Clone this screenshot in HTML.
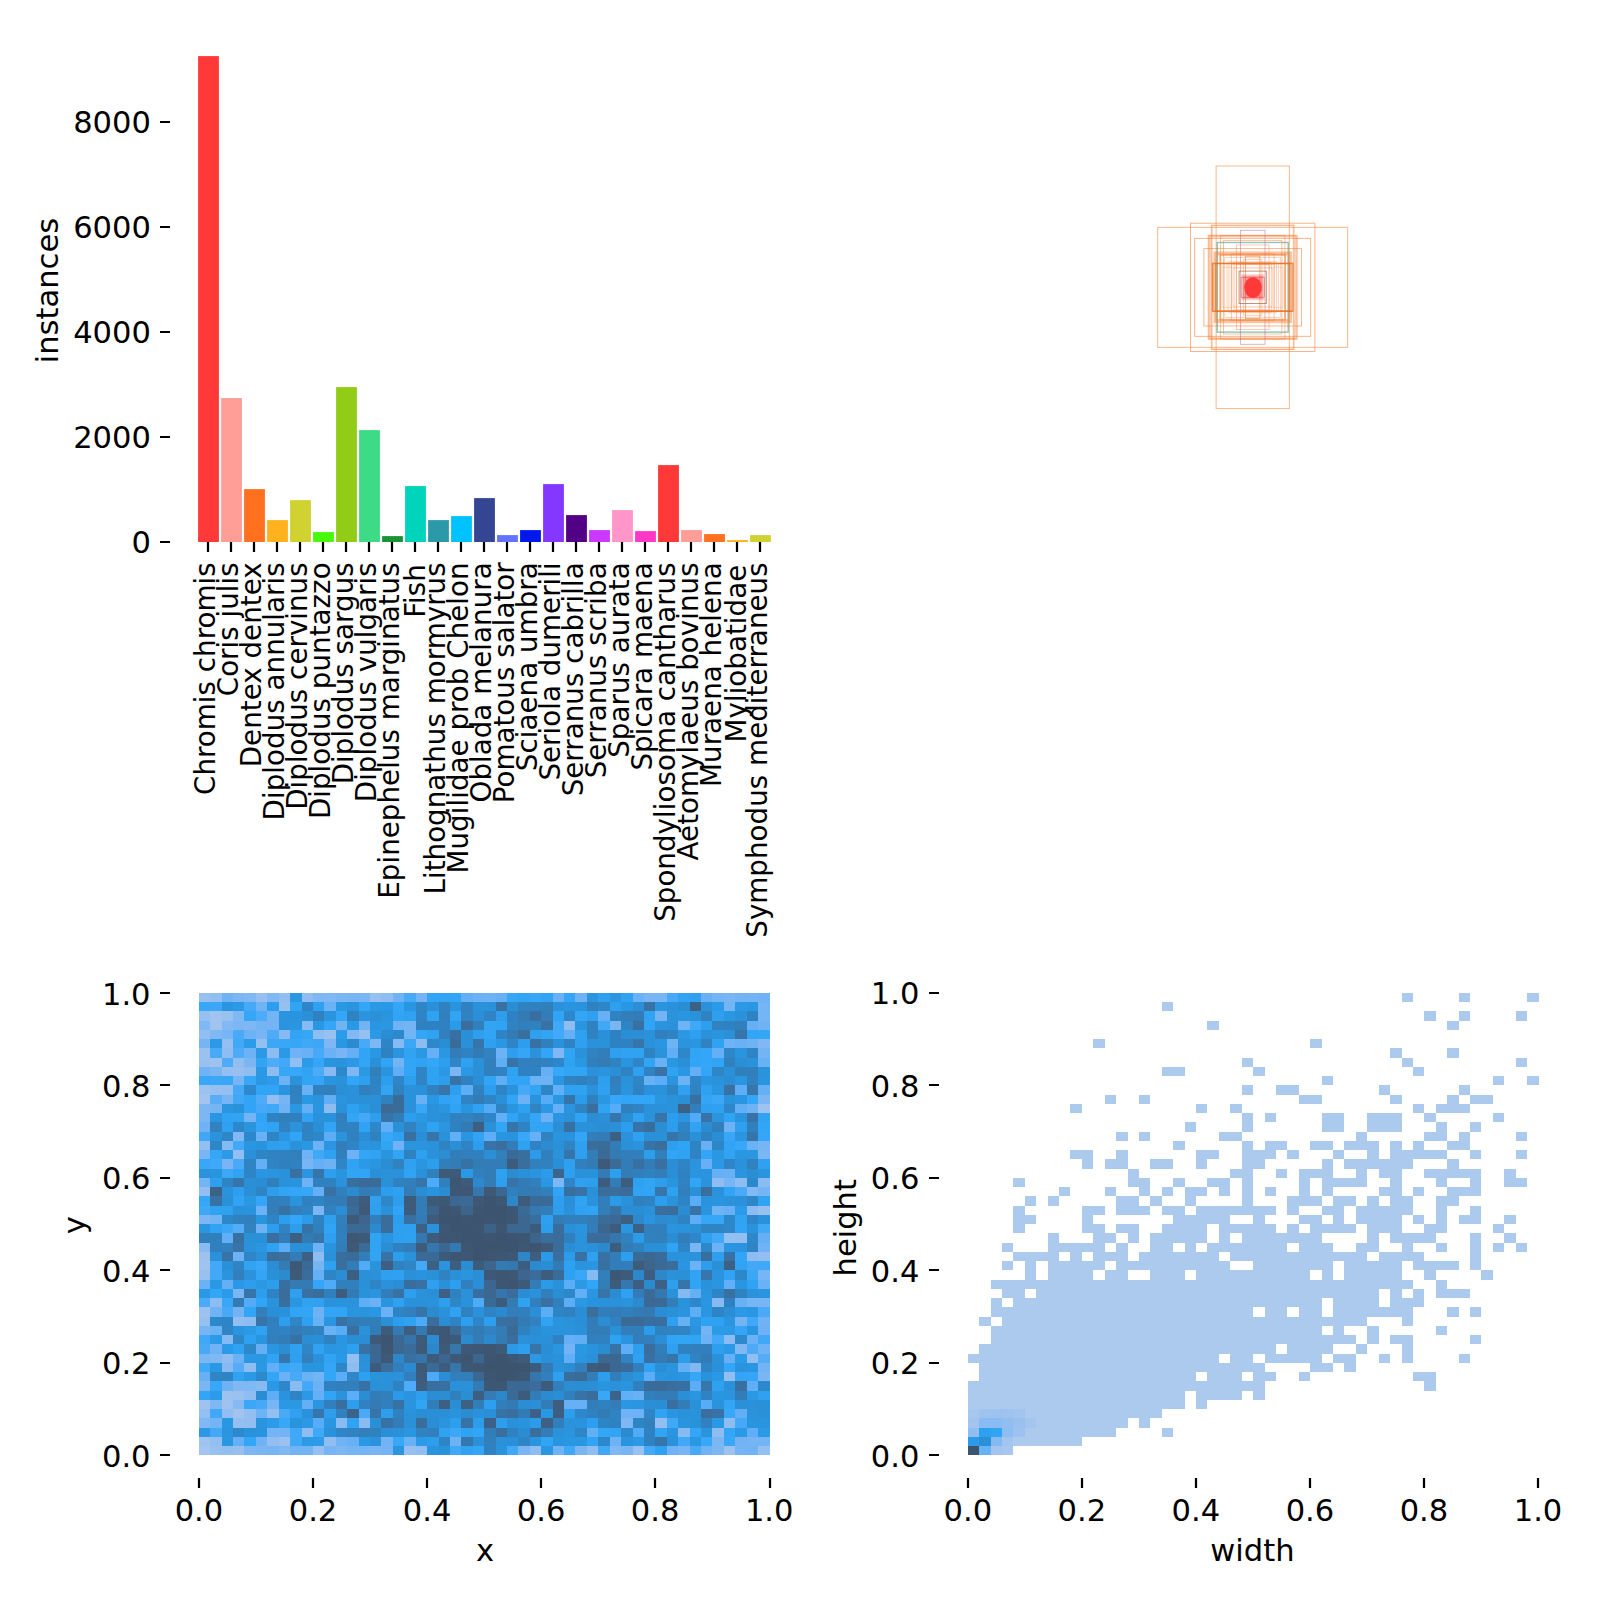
<!DOCTYPE html>
<html><head><meta charset="utf-8"><title>labels</title>
<style>html,body{margin:0;padding:0;background:#fff}svg{display:block}</style></head>
<body><svg width="1600" height="1600" viewBox="0 0 1600 1600">
<rect width="1600" height="1600" fill="#fff"/>
<g stroke="#000" stroke-width="2.22" fill="none">
<path d="M208 542v10M231 542v10M254 542v10M277 542v10M300 542v10M323 542v10M346 542v10M369 542v10M392 542v10M415 542v10M438 542v10M461 542v10M484 542v10M507 542v10M530 542v10M553 542v10M576 542v10M599 542v10M622 542v10M645 542v10M668 542v10M691 542v10M714 542v10M737 542v10M760 542v10M170 122h-10M170 227h-10M170 332h-10M170 437h-10M170 542h-10M199 1478v10M313 1478v10M427 1478v10M541 1478v10M655 1478v10M770 1478v10M170 993h-10M170 1085h-10M170 1178h-10M170 1270h-10M170 1363h-10M170 1455h-10M968 1478v10M1082 1478v10M1196 1478v10M1310 1478v10M1424 1478v10M1538 1478v10M939 993h-10M939 1085h-10M939 1178h-10M939 1270h-10M939 1363h-10M939 1455h-10"/>
</g>
<g>
<rect x="198.1" y="56.1" width="20.8" height="485.9" fill="#FF3838"/>
<rect x="221.1" y="398.1" width="20.8" height="143.9" fill="#FF9D97"/>
<rect x="244.1" y="489.1" width="20.8" height="52.9" fill="#FF701F"/>
<rect x="267.1" y="520.1" width="20.8" height="21.9" fill="#FFB21D"/>
<rect x="290.1" y="500.1" width="20.8" height="41.9" fill="#CFD231"/>
<rect x="313.1" y="532.1" width="20.8" height="9.9" fill="#48F90A"/>
<rect x="336.1" y="387.1" width="20.8" height="154.9" fill="#92CC17"/>
<rect x="359.1" y="430.1" width="20.8" height="111.9" fill="#3DDB86"/>
<rect x="382.1" y="536.1" width="20.8" height="5.9" fill="#1A9334"/>
<rect x="405.1" y="486.1" width="20.8" height="55.9" fill="#00D4BB"/>
<rect x="428.1" y="520.1" width="20.8" height="21.9" fill="#2C99A8"/>
<rect x="451.1" y="516.1" width="20.8" height="25.9" fill="#00C2FF"/>
<rect x="474.1" y="498.1" width="20.8" height="43.9" fill="#344593"/>
<rect x="497.1" y="535.1" width="20.8" height="6.9" fill="#6473FF"/>
<rect x="520.1" y="530.1" width="20.8" height="11.9" fill="#0018EC"/>
<rect x="543.1" y="484.1" width="20.8" height="57.9" fill="#8438FF"/>
<rect x="566.1" y="515.1" width="20.8" height="26.9" fill="#520085"/>
<rect x="589.1" y="530.1" width="20.8" height="11.9" fill="#CB38FF"/>
<rect x="612.1" y="510.1" width="20.8" height="31.9" fill="#FF95C8"/>
<rect x="635.1" y="531.1" width="20.8" height="10.9" fill="#FF37C7"/>
<rect x="658.1" y="465.1" width="20.8" height="76.9" fill="#FF3838"/>
<rect x="681.1" y="530.1" width="20.8" height="11.9" fill="#FF9D97"/>
<rect x="704.1" y="534.1" width="20.8" height="7.9" fill="#FF701F"/>
<rect x="727.1" y="540.1" width="20.8" height="1.9" fill="#FFB21D"/>
<rect x="750.1" y="535.1" width="20.8" height="6.9" fill="#CFD231"/>
</g>
<g font-family="'DejaVu Sans', 'Liberation Sans', sans-serif" fill="#000">
<text font-size="27.78" transform="translate(215.26 794.98) rotate(-90)">Chromis chromis</text>
<text font-size="27.78" transform="translate(238.25 696.26) rotate(-90)">Coris julis</text>
<text font-size="27.78" transform="translate(261.24 767.32) rotate(-90)">Dentex dentex</text>
<text font-size="27.78" transform="translate(284.23 820.38) rotate(-90)">Diplodus annularis</text>
<text font-size="27.78" transform="translate(307.23 809.82) rotate(-90)">Diplodus cervinus</text>
<text font-size="27.78" transform="translate(330.22 819.11) rotate(-90)">Diplodus puntazzo</text>
<text font-size="27.78" transform="translate(353.21 784.33) rotate(-90)">Diplodus sargus</text>
<text font-size="27.78" transform="translate(376.2 802.22) rotate(-90)">Diplodus vulgaris</text>
<text font-size="27.78" transform="translate(399.19 898.71) rotate(-90)">Epinephelus marginatus</text>
<text font-size="27.78" transform="translate(425.18 617.86) rotate(-90)">Fish</text>
<text font-size="27.78" transform="translate(445.17 894.53) rotate(-90)">Lithognathus mormyrus</text>
<text font-size="27.78" transform="translate(468.16 873.44) rotate(-90)">Mugilidae prob Chelon</text>
<text font-size="27.78" transform="translate(491.15 802.47) rotate(-90)">Oblada melanura</text>
<text font-size="27.78" transform="translate(514.14 803.35) rotate(-90)">Pomatous salator</text>
<text font-size="27.78" transform="translate(537.14 771.14) rotate(-90)">Sciaena umbra</text>
<text font-size="27.78" transform="translate(560.13 780.59) rotate(-90)">Seriola dumerili</text>
<text font-size="27.78" transform="translate(583.12 796.34) rotate(-90)">Serranus cabrilla</text>
<text font-size="27.78" transform="translate(606.11 778.35) rotate(-90)">Serranus scriba</text>
<text font-size="27.78" transform="translate(629.1 757.8) rotate(-90)">Sparus aurata</text>
<text font-size="27.78" transform="translate(652.09 770.56) rotate(-90)">Spicara maena</text>
<text font-size="27.78" transform="translate(675.08 921.87) rotate(-90)">Spondyliosoma cantharus</text>
<text font-size="27.78" transform="translate(698.07 860.4) rotate(-90)">Aetomylaeus bovinus</text>
<text font-size="27.78" transform="translate(721.06 786.9) rotate(-90)">Muraena helena</text>
<text font-size="27.78" transform="translate(746.05 742.46) rotate(-90)">Myliobatidae</text>
<text font-size="27.78" transform="translate(767.05 937.74) rotate(-90)">Symphodus mediterraneus</text>
<text font-size="30.56" text-anchor="end" x="150.95" y="552.57">0</text>
<text font-size="30.56" text-anchor="end" x="150.95" y="447.76">2000</text>
<text font-size="30.56" text-anchor="end" x="150.95" y="342.95">4000</text>
<text font-size="30.56" text-anchor="end" x="150.95" y="238.14">6000</text>
<text font-size="30.56" text-anchor="end" x="150.95" y="133.33">8000</text>
<text font-size="30.56" text-anchor="middle" transform="translate(58.22 290.58) rotate(-90)">instances</text>
<text font-size="30.56" text-anchor="middle" x="198.99" y="1520.96">0.0</text>
<text font-size="30.56" text-anchor="middle" x="313.03" y="1520.96">0.2</text>
<text font-size="30.56" text-anchor="middle" x="427.06" y="1520.96">0.4</text>
<text font-size="30.56" text-anchor="middle" x="541.1" y="1520.96">0.6</text>
<text font-size="30.56" text-anchor="middle" x="655.14" y="1520.96">0.8</text>
<text font-size="30.56" text-anchor="middle" x="769.18" y="1520.96">1.0</text>
<text font-size="30.56" text-anchor="middle" x="484.99" y="1560.65">x</text>
<text font-size="30.56" text-anchor="end" x="150.55" y="1466.55">0.0</text>
<text font-size="30.56" text-anchor="end" x="150.55" y="1374.15">0.2</text>
<text font-size="30.56" text-anchor="end" x="150.55" y="1281.75">0.4</text>
<text font-size="30.56" text-anchor="end" x="150.55" y="1189.35">0.6</text>
<text font-size="30.56" text-anchor="end" x="150.55" y="1096.94">0.8</text>
<text font-size="30.56" text-anchor="end" x="150.55" y="1004.54">1.0</text>
<text font-size="30.56" text-anchor="middle" transform="translate(85.39 1225.22) rotate(-90)">y</text>
<text font-size="30.56" text-anchor="middle" x="967.81" y="1520.96">0.0</text>
<text font-size="30.56" text-anchor="middle" x="1081.85" y="1520.96">0.2</text>
<text font-size="30.56" text-anchor="middle" x="1195.89" y="1520.96">0.4</text>
<text font-size="30.56" text-anchor="middle" x="1309.93" y="1520.96">0.6</text>
<text font-size="30.56" text-anchor="middle" x="1423.97" y="1520.96">0.8</text>
<text font-size="30.56" text-anchor="middle" x="1538.01" y="1520.96">1.0</text>
<text font-size="30.56" text-anchor="middle" x="1252.4" y="1560.65">width</text>
<text font-size="30.56" text-anchor="end" x="919.46" y="1466.51">0.0</text>
<text font-size="30.56" text-anchor="end" x="919.46" y="1374.1">0.2</text>
<text font-size="30.56" text-anchor="end" x="919.46" y="1281.7">0.4</text>
<text font-size="30.56" text-anchor="end" x="919.46" y="1189.29">0.6</text>
<text font-size="30.56" text-anchor="end" x="919.46" y="1096.89">0.8</text>
<text font-size="30.56" text-anchor="end" x="919.46" y="1004.48">1.0</text>
<text font-size="30.56" text-anchor="middle" transform="translate(856.3 1227.72) rotate(-90)">height</text>
</g>
<g shape-rendering="crispEdges">
<path fill="#98c1f0" d="M198.7 992.8H210.1V1002.1H198.7zM221.6 1011.3H233V1020.6H221.6zM198.7 1057.6H210.1V1066.8H198.7zM758.1 1205.6H769.5V1214.8H758.1z"/>
<path fill="#93bef1" d="M210.1 992.8H221.6V1002.1H210.1zM278.6 992.8H290V1002.1H278.6zM198.7 1029.8H210.1V1039.1H198.7zM290 1057.6H301.5V1066.8H290zM758.1 1251.8H769.5V1261.1H758.1zM221.6 1409.1H233V1418.3H221.6zM244.4 1409.1H255.8V1418.3H244.4zM244.4 1418.3H255.8V1427.6H244.4zM655.4 1418.3H666.8V1427.6H655.4zM267.2 1436.8H278.6V1446.1H267.2z"/>
<path fill="#70b3f4" d="M221.6 992.8H233V1002.1H221.6zM758.1 992.8H769.5V1002.1H758.1zM255.8 1002.1H267.2V1011.3H255.8zM678.2 1020.6H689.6V1029.8H678.2zM758.1 1020.6H769.5V1029.8H758.1zM666.8 1039.1H678.2V1048.3H666.8zM746.7 1039.1H758.1V1048.3H746.7zM746.7 1103.8H758.1V1113.1H746.7zM712.4 1205.6H723.9V1214.8H712.4zM210.1 1307.3H221.6V1316.6H210.1zM335.7 1436.8H347.1V1446.1H335.7zM552.6 1446.1H564V1455.3H552.6zM701 1446.1H712.4V1455.3H701z"/>
<path fill="#7bb6f3" d="M233 992.8H244.4V1002.1H233zM335.7 992.8H347.1V1002.1H335.7zM609.7 1020.6H621.1V1029.8H609.7zM244.4 1057.6H255.8V1066.8H244.4zM210.1 1066.8H221.6V1076.1H210.1zM198.7 1113.1H210.1V1122.3H198.7zM758.1 1150.1H769.5V1159.3H758.1zM255.8 1446.1H267.2V1455.3H255.8zM518.4 1446.1H529.8V1455.3H518.4zM575.4 1446.1H586.9V1455.3H575.4z"/>
<path fill="#7fb8f3" d="M244.4 992.8H255.8V1002.1H244.4zM324.3 992.8H335.7V1002.1H324.3zM233 1011.3H244.4V1020.6H233zM198.7 1020.6H210.1V1029.8H198.7zM210.1 1029.8H221.6V1039.1H210.1zM233 1131.6H244.4V1140.8H233zM735.3 1344.3H746.7V1353.6H735.3zM210.1 1353.6H221.6V1362.8H210.1zM244.4 1381.3H255.8V1390.6H244.4zM278.6 1446.1H290V1455.3H278.6z"/>
<path fill="#95bff1" d="M255.8 992.8H267.2V1002.1H255.8zM221.6 1039.1H233V1048.3H221.6zM221.6 1066.8H233V1076.1H221.6zM267.2 1409.1H278.6V1418.3H267.2zM233 1418.3H244.4V1427.6H233z"/>
<path fill="#83b9f3" d="M267.2 992.8H278.6V1002.1H267.2zM347.1 1029.8H358.5V1039.1H347.1z"/>
<path fill="#2a97e2" d="M290 992.8H301.5V1002.1H290zM621.1 1002.1H632.5V1011.3H621.1zM746.7 1002.1H758.1V1011.3H746.7zM723.9 1011.3H735.3V1020.6H723.9zM312.9 1020.6H324.3V1029.8H312.9zM495.5 1039.1H507V1048.3H495.5zM438.5 1048.3H449.9V1057.6H438.5zM575.4 1057.6H586.9V1066.8H575.4zM255.8 1076.1H267.2V1085.3H255.8zM427 1094.6H438.5V1103.8H427zM290 1103.8H301.5V1113.1H290zM301.5 1140.8H312.9V1150.1H301.5zM735.3 1150.1H758.1V1159.3H735.3zM541.2 1177.8H552.6V1187.1H541.2zM370 1307.3H381.4V1316.6H370zM575.4 1344.3H586.9V1353.6H575.4zM255.8 1353.6H267.2V1362.8H255.8zM541.2 1409.1H552.6V1418.3H541.2zM221.6 1418.3H233V1427.6H221.6zM564 1436.8H575.4V1446.1H564zM541.2 1446.1H552.6V1455.3H541.2z"/>
<path fill="#8fbdf1" d="M301.5 992.8H312.9V1002.1H301.5zM381.4 992.8H392.8V1002.1H381.4zM564 1020.6H575.4V1029.8H564zM312.9 1029.8H324.3V1039.1H312.9zM244.4 1066.8H255.8V1076.1H244.4zM712.4 1177.8H723.9V1187.1H712.4zM221.6 1353.6H233V1362.8H221.6zM244.4 1390.6H255.8V1399.8H244.4zM301.5 1427.6H312.9V1436.8H301.5zM712.4 1427.6H723.9V1436.8H712.4zM529.8 1446.1H541.2V1455.3H529.8z"/>
<path fill="#7eb7f3" d="M312.9 992.8H324.3V1002.1H312.9zM244.4 1020.6H255.8V1029.8H244.4zM324.3 1039.1H335.7V1048.3H324.3zM370 1039.1H381.4V1048.3H370zM347.1 1066.8H358.5V1076.1H347.1zM552.6 1177.8H564V1187.1H552.6zM621.1 1418.3H632.5V1427.6H621.1z"/>
<path fill="#77b5f4" d="M347.1 992.8H358.5V1002.1H347.1zM643.9 992.8H666.8V1002.1H643.9zM723.9 992.8H735.3V1002.1H723.9zM221.6 1029.8H233V1039.1H221.6zM255.8 1029.8H267.2V1039.1H255.8zM233 1076.1H244.4V1085.3H233zM221.6 1094.6H233V1103.8H221.6zM758.1 1140.8H769.5V1150.1H758.1zM198.7 1150.1H210.1V1159.3H198.7zM301.5 1159.3H312.9V1168.6H301.5zM723.9 1177.8H735.3V1187.1H723.9zM758.1 1270.3H769.5V1279.6H758.1zM758.1 1298.1H769.5V1307.3H758.1zM198.7 1325.8H210.1V1335.1H198.7zM324.3 1446.1H335.7V1455.3H324.3z"/>
<path fill="#7ab6f3" d="M358.5 992.8H370V1002.1H358.5zM449.9 1066.8H461.3V1076.1H449.9zM312.9 1205.6H324.3V1214.8H312.9zM689.6 1242.6H701V1251.8H689.6zM233 1288.8H244.4V1298.1H233zM198.7 1353.6H210.1V1362.8H198.7zM758.1 1372.1H769.5V1381.3H758.1zM198.7 1381.3H210.1V1390.6H198.7z"/>
<path fill="#96c0f0" d="M370 992.8H381.4V1002.1H370zM278.6 1002.1H290V1011.3H278.6zM198.7 1011.3H210.1V1020.6H198.7zM210.1 1085.3H221.6V1094.6H210.1zM198.7 1316.6H210.1V1325.8H198.7zM312.9 1446.1H324.3V1455.3H312.9z"/>
<path fill="#6fb2f5" d="M392.8 992.8H404.2V1002.1H392.8zM392.8 1020.6H404.2V1029.8H392.8zM723.9 1039.1H735.3V1048.3H723.9zM290 1048.3H301.5V1057.6H290zM198.7 1066.8H210.1V1076.1H198.7zM278.6 1103.8H290V1113.1H278.6zM198.7 1122.3H210.1V1131.6H198.7zM392.8 1140.8H404.2V1150.1H392.8zM301.5 1150.1H312.9V1159.3H301.5zM301.5 1177.8H312.9V1187.1H301.5zM758.1 1242.6H769.5V1251.8H758.1zM758.1 1316.6H769.5V1325.8H758.1zM210.1 1344.3H221.6V1353.6H210.1zM758.1 1344.3H769.5V1353.6H758.1zM621.1 1409.1H632.5V1418.3H621.1zM255.8 1436.8H267.2V1446.1H255.8zM666.8 1446.1H678.2V1455.3H666.8z"/>
<path fill="#48a9f7" d="M404.2 992.8H415.6V1002.1H404.2zM358.5 1039.1H370V1048.3H358.5zM210.1 1048.3H221.6V1057.6H210.1zM312.9 1048.3H324.3V1057.6H312.9zM221.6 1307.3H233V1316.6H221.6zM198.7 1344.3H210.1V1353.6H198.7zM290 1372.1H301.5V1381.3H290zM278.6 1409.1H290V1418.3H278.6zM689.6 1446.1H701V1455.3H689.6z"/>
<path fill="#74b4f4" d="M415.6 992.8H427V1002.1H415.6zM267.2 1020.6H278.6V1029.8H267.2zM244.4 1113.1H255.8V1122.3H244.4zM735.3 1316.6H746.7V1325.8H735.3zM564 1344.3H575.4V1353.6H564zM267.2 1427.6H290V1436.8H267.2zM381.4 1446.1H392.8V1455.3H381.4z"/>
<path fill="#32a4f5" d="M427 992.8H438.5V1002.1H427zM449.9 992.8H461.3V1002.1H449.9zM290 1002.1H301.5V1011.3H290zM392.8 1011.3H404.2V1020.6H392.8zM552.6 1011.3H564V1020.6H552.6zM643.9 1020.6H655.4V1029.8H643.9zM484.1 1029.8H495.5V1039.1H484.1zM358.5 1048.3H370V1057.6H358.5zM712.4 1057.6H723.9V1066.8H712.4zM575.4 1066.8H586.9V1076.1H575.4zM484.1 1076.1H495.5V1085.3H484.1zM507 1076.1H529.8V1085.3H507zM255.8 1085.3H278.6V1094.6H255.8zM244.4 1094.6H255.8V1103.8H244.4zM244.4 1103.8H255.8V1113.1H244.4zM255.8 1113.1H267.2V1122.3H255.8zM290 1131.6H301.5V1140.8H290zM723.9 1140.8H735.3V1150.1H723.9zM666.8 1150.1H678.2V1159.3H666.8zM358.5 1168.6H370V1177.8H358.5zM552.6 1187.1H564V1196.3H552.6zM643.9 1187.1H655.4V1196.3H643.9zM723.9 1187.1H735.3V1196.3H723.9zM392.8 1205.6H404.2V1214.8H392.8zM324.3 1224.1H335.7V1233.3H324.3zM735.3 1224.1H746.7V1233.3H735.3zM255.8 1298.1H267.2V1307.3H255.8zM290 1307.3H301.5V1316.6H290zM666.8 1335.1H678.2V1344.3H666.8zM324.3 1390.6H335.7V1399.8H324.3zM586.9 1436.8H598.3V1446.1H586.9z"/>
<path fill="#31a3f3" d="M438.5 992.8H449.9V1002.1H438.5zM678.2 992.8H689.6V1002.1H678.2zM643.9 1011.3H655.4V1020.6H643.9zM404.2 1048.3H415.6V1057.6H404.2zM301.5 1066.8H312.9V1076.1H301.5zM449.9 1103.8H461.3V1113.1H449.9zM598.3 1103.8H609.7V1113.1H598.3zM267.2 1122.3H278.6V1131.6H267.2zM472.7 1131.6H484.1V1140.8H472.7zM370 1150.1H381.4V1159.3H370zM723.9 1150.1H735.3V1159.3H723.9zM404.2 1168.6H415.6V1177.8H404.2zM575.4 1196.3H586.9V1205.6H575.4zM586.9 1205.6H598.3V1214.8H586.9zM735.3 1214.8H746.7V1224.1H735.3zM210.1 1224.1H221.6V1233.3H210.1zM370 1233.3H381.4V1242.6H370zM370 1242.6H381.4V1251.8H370zM666.8 1242.6H678.2V1251.8H666.8zM244.4 1261.1H255.8V1270.3H244.4zM689.6 1279.6H701V1288.8H689.6zM746.7 1279.6H758.1V1288.8H746.7zM541.2 1316.6H552.6V1325.8H541.2zM324.3 1353.6H335.7V1362.8H324.3zM655.4 1409.1H666.8V1418.3H655.4zM347.1 1418.3H358.5V1427.6H347.1z"/>
<path fill="#62aff5" d="M461.3 992.8H472.7V1002.1H461.3zM689.6 1066.8H701V1076.1H689.6zM735.3 1103.8H746.7V1113.1H735.3zM575.4 1288.8H586.9V1298.1H575.4zM267.2 1362.8H278.6V1372.1H267.2zM735.3 1409.1H746.7V1418.3H735.3zM586.9 1427.6H598.3V1436.8H586.9z"/>
<path fill="#6ab1f5" d="M472.7 992.8H484.1V1002.1H472.7zM632.5 992.8H643.9V1002.1H632.5zM324.3 1002.1H335.7V1011.3H324.3zM324.3 1048.3H335.7V1057.6H324.3zM529.8 1076.1H541.2V1085.3H529.8zM746.7 1140.8H758.1V1150.1H746.7zM255.8 1205.6H267.2V1214.8H255.8zM198.7 1279.6H210.1V1288.8H198.7zM758.1 1279.6H769.5V1288.8H758.1zM370 1298.1H381.4V1307.3H370zM381.4 1307.3H392.8V1316.6H381.4zM210.1 1325.8H221.6V1335.1H210.1zM324.3 1325.8H335.7V1335.1H324.3zM746.7 1335.1H758.1V1344.3H746.7zM233 1353.6H244.4V1362.8H233zM278.6 1372.1H290V1381.3H278.6zM301.5 1372.1H312.9V1381.3H301.5zM312.9 1381.3H324.3V1390.6H312.9z"/>
<path fill="#6db2f5" d="M484.1 992.8H495.5V1002.1H484.1zM575.4 992.8H586.9V1002.1H575.4zM495.5 1048.3H507V1057.6H495.5zM541.2 1076.1H552.6V1085.3H541.2zM678.2 1076.1H689.6V1085.3H678.2zM312.9 1140.8H324.3V1150.1H312.9zM347.1 1150.1H358.5V1159.3H347.1zM324.3 1159.3H335.7V1168.6H324.3zM312.9 1242.6H324.3V1251.8H312.9zM233 1251.8H244.4V1261.1H233zM689.6 1261.1H701V1270.3H689.6zM312.9 1307.3H324.3V1316.6H312.9zM758.1 1325.8H769.5V1335.1H758.1zM701 1335.1H712.4V1344.3H701zM221.6 1381.3H233V1390.6H221.6zM255.8 1409.1H267.2V1418.3H255.8z"/>
<path fill="#65b0f5" d="M495.5 992.8H507V1002.1H495.5zM746.7 1020.6H758.1V1029.8H746.7zM347.1 1048.3H358.5V1057.6H347.1zM541.2 1066.8H552.6V1076.1H541.2zM758.1 1085.3H769.5V1094.6H758.1zM301.5 1103.8H312.9V1113.1H301.5zM758.1 1233.3H769.5V1242.6H758.1zM312.9 1270.3H324.3V1279.6H312.9zM221.6 1279.6H233V1288.8H221.6zM689.6 1288.8H701V1298.1H689.6zM255.8 1344.3H267.2V1353.6H255.8zM678.2 1362.8H689.6V1372.1H678.2zM312.9 1390.6H324.3V1399.8H312.9zM301.5 1399.8H312.9V1409.1H301.5z"/>
<path fill="#36a6f7" d="M507 992.8H518.4V1002.1H507zM529.8 992.8H541.2V1002.1H529.8zM244.4 1011.3H255.8V1020.6H244.4zM301.5 1029.8H312.9V1039.1H301.5zM290 1039.1H301.5V1048.3H290zM278.6 1066.8H290V1076.1H278.6zM609.7 1094.6H621.1V1103.8H609.7zM210.1 1150.1H221.6V1159.3H210.1zM301.5 1187.1H312.9V1196.3H301.5zM198.7 1196.3H210.1V1205.6H198.7zM701 1214.8H723.9V1224.1H701zM689.6 1372.1H701V1381.3H689.6z"/>
<path fill="#32a4f4" d="M518.4 992.8H529.8V1002.1H518.4zM449.9 1011.3H461.3V1020.6H449.9zM484.1 1020.6H495.5V1029.8H484.1zM290 1029.8H301.5V1039.1H290zM541.2 1029.8H552.6V1039.1H541.2zM564 1048.3H575.4V1057.6H564zM689.6 1048.3H701V1057.6H689.6zM255.8 1057.6H267.2V1066.8H255.8zM381.4 1057.6H392.8V1066.8H381.4zM643.9 1057.6H655.4V1066.8H643.9zM564 1066.8H575.4V1076.1H564zM301.5 1076.1H312.9V1085.3H301.5zM381.4 1085.3H392.8V1094.6H381.4zM233 1113.1H244.4V1122.3H233zM324.3 1122.3H335.7V1131.6H324.3zM529.8 1122.3H552.6V1131.6H529.8zM381.4 1140.8H392.8V1150.1H381.4zM347.1 1168.6H358.5V1177.8H347.1zM643.9 1177.8H655.4V1187.1H643.9zM278.6 1187.1H290V1196.3H278.6zM370 1251.8H381.4V1261.1H370zM335.7 1307.3H347.1V1316.6H335.7zM689.6 1335.1H701V1344.3H689.6zM415.6 1399.8H427V1409.1H415.6zM609.7 1427.6H621.1V1436.8H609.7zM655.4 1427.6H666.8V1436.8H655.4zM541.2 1436.8H552.6V1446.1H541.2z"/>
<path fill="#31a3f4" d="M541.2 992.8H552.6V1002.1H541.2zM495.5 1020.6H507V1029.8H495.5zM438.5 1094.6H449.9V1103.8H438.5zM221.6 1113.1H233V1122.3H221.6zM301.5 1113.1H312.9V1122.3H301.5zM507 1113.1H518.4V1122.3H507zM575.4 1113.1H586.9V1122.3H575.4zM723.9 1113.1H735.3V1122.3H723.9zM758.1 1113.1H769.5V1122.3H758.1zM358.5 1122.3H370V1131.6H358.5zM689.6 1122.3H701V1131.6H689.6zM678.2 1140.8H689.6V1150.1H678.2zM347.1 1159.3H358.5V1168.6H347.1zM233 1168.6H244.4V1177.8H233zM632.5 1187.1H643.9V1196.3H632.5zM233 1196.3H244.4V1205.6H233zM758.1 1196.3H769.5V1205.6H758.1zM735.3 1261.1H746.7V1270.3H735.3zM689.6 1270.3H701V1279.6H689.6zM723.9 1270.3H735.3V1279.6H723.9zM267.2 1353.6H278.6V1362.8H267.2z"/>
<path fill="#69b1f5" d="M552.6 992.8H564V1002.1H552.6zM735.3 1039.1H746.7V1048.3H735.3zM301.5 1048.3H312.9V1057.6H301.5zM655.4 1057.6H666.8V1066.8H655.4zM758.1 1057.6H769.5V1066.8H758.1zM643.9 1076.1H655.4V1085.3H643.9zM301.5 1085.3H312.9V1094.6H301.5zM415.6 1094.6H427V1103.8H415.6zM255.8 1131.6H267.2V1140.8H255.8zM723.9 1168.6H735.3V1177.8H723.9zM735.3 1298.1H746.7V1307.3H735.3zM312.9 1316.6H324.3V1325.8H312.9zM632.5 1390.6H643.9V1399.8H632.5zM404.2 1436.8H415.6V1446.1H404.2z"/>
<path fill="#34a5f7" d="M564 992.8H575.4V1002.1H564zM324.3 1020.6H335.7V1029.8H324.3zM758.1 1029.8H769.5V1039.1H758.1zM518.4 1048.3H529.8V1057.6H518.4zM701 1048.3H712.4V1057.6H701zM312.9 1057.6H324.3V1066.8H312.9zM701 1057.6H712.4V1066.8H701zM312.9 1076.1H324.3V1085.3H312.9zM449.9 1094.6H461.3V1103.8H449.9zM632.5 1094.6H643.9V1103.8H632.5zM746.7 1094.6H758.1V1103.8H746.7zM529.8 1113.1H541.2V1122.3H529.8zM255.8 1122.3H267.2V1131.6H255.8zM758.1 1131.6H769.5V1140.8H758.1zM358.5 1150.1H370V1159.3H358.5zM290 1187.1H301.5V1196.3H290zM255.8 1196.3H267.2V1205.6H255.8zM312.9 1279.6H324.3V1288.8H312.9zM735.3 1325.8H746.7V1335.1H735.3zM324.3 1362.8H335.7V1372.1H324.3zM723.9 1362.8H735.3V1372.1H723.9zM746.7 1372.1H758.1V1381.3H746.7zM689.6 1427.6H701V1436.8H689.6zM723.9 1427.6H735.3V1436.8H723.9z"/>
<path fill="#2a94de" d="M586.9 992.8H598.3V1002.1H586.9zM324.3 1011.3H335.7V1020.6H324.3zM358.5 1011.3H370V1020.6H358.5zM278.6 1020.6H290V1029.8H278.6zM575.4 1020.6H586.9V1029.8H575.4zM655.4 1020.6H666.8V1029.8H655.4zM712.4 1029.8H723.9V1039.1H712.4zM678.2 1039.1H689.6V1048.3H678.2zM735.3 1048.3H746.7V1057.6H735.3zM621.1 1057.6H632.5V1066.8H621.1zM381.4 1066.8H392.8V1076.1H381.4zM598.3 1066.8H609.7V1076.1H598.3zM666.8 1076.1H678.2V1085.3H666.8zM758.1 1076.1H769.5V1085.3H758.1zM278.6 1085.3H290V1094.6H278.6zM621.1 1085.3H632.5V1094.6H621.1zM312.9 1094.6H324.3V1103.8H312.9zM335.7 1094.6H347.1V1103.8H335.7zM564 1103.8H575.4V1113.1H564zM518.4 1113.1H529.8V1122.3H518.4zM678.2 1113.1H689.6V1122.3H678.2zM712.4 1113.1H723.9V1122.3H712.4zM735.3 1113.1H746.7V1122.3H735.3zM244.4 1122.3H255.8V1131.6H244.4zM415.6 1122.3H427V1131.6H415.6zM358.5 1140.8H370V1150.1H358.5zM404.2 1140.8H427V1150.1H404.2zM381.4 1150.1H392.8V1159.3H381.4zM689.6 1159.3H701V1168.6H689.6zM267.2 1168.6H278.6V1177.8H267.2zM529.8 1168.6H541.2V1177.8H529.8zM689.6 1168.6H712.4V1177.8H689.6zM758.1 1168.6H769.5V1177.8H758.1zM701 1205.6H712.4V1214.8H701zM643.9 1214.8H655.4V1224.1H643.9zM575.4 1224.1H586.9V1233.3H575.4zM666.8 1224.1H678.2V1233.3H666.8zM735.3 1242.6H746.7V1251.8H735.3zM438.5 1261.1H449.9V1270.3H438.5zM221.6 1270.3H233V1279.6H221.6zM461.3 1270.3H472.7V1279.6H461.3zM712.4 1270.3H723.9V1279.6H712.4zM370 1288.8H381.4V1298.1H370zM701 1288.8H712.4V1298.1H701zM758.1 1288.8H769.5V1298.1H758.1zM358.5 1307.3H370V1316.6H358.5zM678.2 1307.3H689.6V1316.6H678.2zM552.6 1316.6H564V1325.8H552.6zM621.1 1335.1H632.5V1344.3H621.1zM666.8 1362.8H678.2V1372.1H666.8zM632.5 1372.1H643.9V1381.3H632.5zM655.4 1372.1H666.8V1381.3H655.4zM404.2 1390.6H415.6V1399.8H404.2zM723.9 1390.6H735.3V1399.8H723.9zM404.2 1399.8H415.6V1409.1H404.2zM255.8 1418.3H267.2V1427.6H255.8zM438.5 1418.3H449.9V1427.6H438.5zM678.2 1418.3H689.6V1427.6H678.2zM746.7 1418.3H769.5V1427.6H746.7zM221.6 1427.6H233V1436.8H221.6zM564 1427.6H575.4V1436.8H564zM666.8 1427.6H678.2V1436.8H666.8zM701 1427.6H712.4V1436.8H701zM529.8 1436.8H541.2V1446.1H529.8zM427 1446.1H438.5V1455.3H427z"/>
<path fill="#2fa0f0" d="M598.3 992.8H609.7V1002.1H598.3zM609.7 1002.1H621.1V1011.3H609.7zM586.9 1011.3H598.3V1020.6H586.9zM529.8 1029.8H541.2V1039.1H529.8zM689.6 1029.8H701V1039.1H689.6zM575.4 1039.1H586.9V1048.3H575.4zM609.7 1048.3H621.1V1057.6H609.7zM358.5 1076.1H370V1085.3H358.5zM701 1103.8H712.4V1113.1H701zM735.3 1122.3H746.7V1131.6H735.3zM278.6 1140.8H290V1150.1H278.6zM575.4 1140.8H586.9V1150.1H575.4zM415.6 1150.1H427V1159.3H415.6zM564 1168.6H575.4V1177.8H564zM404.2 1224.1H415.6V1233.3H404.2zM324.3 1233.3H335.7V1242.6H324.3zM392.8 1233.3H404.2V1242.6H392.8zM290 1288.8H301.5V1298.1H290zM666.8 1344.3H678.2V1353.6H666.8zM290 1353.6H301.5V1362.8H290z"/>
<path fill="#2a97e3" d="M609.7 992.8H621.1V1002.1H609.7zM381.4 1020.6H392.8V1029.8H381.4zM335.7 1039.1H347.1V1048.3H335.7zM370 1048.3H381.4V1057.6H370zM666.8 1057.6H678.2V1066.8H666.8zM678.2 1066.8H689.6V1076.1H678.2zM552.6 1094.6H564V1103.8H552.6zM598.3 1094.6H609.7V1103.8H598.3zM358.5 1103.8H370V1113.1H358.5zM712.4 1150.1H723.9V1159.3H712.4zM244.4 1196.3H255.8V1205.6H244.4zM746.7 1307.3H758.1V1316.6H746.7zM689.6 1316.6H701V1325.8H689.6zM335.7 1344.3H347.1V1353.6H335.7zM621.1 1399.8H632.5V1409.1H621.1zM221.6 1436.8H233V1446.1H221.6zM575.4 1436.8H586.9V1446.1H575.4zM689.6 1436.8H701V1446.1H689.6z"/>
<path fill="#30a2f2" d="M621.1 992.8H632.5V1002.1H621.1zM427 1011.3H438.5V1020.6H427zM427 1029.8H438.5V1039.1H427zM712.4 1039.1H723.9V1048.3H712.4zM621.1 1048.3H643.9V1057.6H621.1zM415.6 1057.6H427V1066.8H415.6zM564 1057.6H575.4V1066.8H564zM427 1066.8H438.5V1076.1H427zM507 1066.8H518.4V1076.1H507zM666.8 1066.8H678.2V1076.1H666.8zM427 1076.1H438.5V1085.3H427zM564 1085.3H586.9V1094.6H564zM472.7 1103.8H484.1V1113.1H472.7zM632.5 1113.1H643.9V1122.3H632.5zM427 1122.3H438.5V1131.6H427zM678.2 1150.1H689.6V1159.3H678.2zM210.1 1205.6H221.6V1214.8H210.1zM267.2 1242.6H278.6V1251.8H267.2zM301.5 1298.1H312.9V1307.3H301.5zM518.4 1298.1H529.8V1307.3H518.4zM449.9 1307.3H461.3V1316.6H449.9zM404.2 1316.6H415.6V1325.8H404.2zM701 1316.6H712.4V1325.8H701zM255.8 1325.8H267.2V1335.1H255.8zM609.7 1335.1H621.1V1344.3H609.7zM233 1344.3H244.4V1353.6H233zM312.9 1344.3H324.3V1353.6H312.9zM643.9 1362.8H655.4V1372.1H643.9zM233 1372.1H244.4V1381.3H233zM438.5 1427.6H449.9V1436.8H438.5zM461.3 1427.6H472.7V1436.8H461.3zM461.3 1446.1H472.7V1455.3H461.3z"/>
<path fill="#46a9f7" d="M666.8 992.8H678.2V1002.1H666.8zM244.4 1002.1H255.8V1011.3H244.4zM233 1085.3H244.4V1094.6H233zM518.4 1085.3H529.8V1094.6H518.4zM255.8 1103.8H267.2V1113.1H255.8zM415.6 1261.1H427V1270.3H415.6zM255.8 1399.8H267.2V1409.1H255.8zM735.3 1418.3H746.7V1427.6H735.3zM643.9 1446.1H655.4V1455.3H643.9z"/>
<path fill="#2ea0ef" d="M689.6 992.8H701V1002.1H689.6zM484.1 1039.1H495.5V1048.3H484.1zM575.4 1150.1H586.9V1159.3H575.4zM564 1159.3H575.4V1168.6H564zM370 1205.6H381.4V1214.8H370zM324.3 1214.8H335.7V1224.1H324.3zM541.2 1214.8H552.6V1224.1H541.2zM392.8 1224.1H404.2V1233.3H392.8zM381.4 1270.3H392.8V1279.6H381.4zM427 1279.6H438.5V1288.8H427zM666.8 1316.6H678.2V1325.8H666.8zM347.1 1344.3H358.5V1353.6H347.1zM358.5 1372.1H370V1381.3H358.5zM552.6 1372.1H564V1381.3H552.6z"/>
<path fill="#67b0f5" d="M701 992.8H712.4V1002.1H701zM598.3 1011.3H609.7V1020.6H598.3zM427 1048.3H438.5V1057.6H427zM529.8 1131.6H541.2V1140.8H529.8zM701 1140.8H712.4V1150.1H701zM701 1159.3H712.4V1168.6H701zM712.4 1168.6H723.9V1177.8H712.4zM723.9 1205.6H735.3V1214.8H723.9zM678.2 1316.6H689.6V1325.8H678.2zM723.9 1353.6H735.3V1362.8H723.9zM198.7 1372.1H210.1V1381.3H198.7zM564 1399.8H586.9V1409.1H564zM347.1 1436.8H358.5V1446.1H347.1z"/>
<path fill="#73b4f4" d="M712.4 992.8H723.9V1002.1H712.4zM746.7 992.8H758.1V1002.1H746.7zM723.9 1002.1H735.3V1011.3H723.9zM267.2 1011.3H278.6V1020.6H267.2zM255.8 1020.6H267.2V1029.8H255.8zM404.2 1020.6H415.6V1029.8H404.2zM404.2 1029.8H415.6V1039.1H404.2zM758.1 1048.3H769.5V1057.6H758.1zM392.8 1057.6H404.2V1066.8H392.8zM198.7 1177.8H210.1V1187.1H198.7zM210.1 1214.8H221.6V1224.1H210.1zM701 1325.8H712.4V1335.1H701zM758.1 1362.8H769.5V1372.1H758.1zM312.9 1372.1H324.3V1381.3H312.9zM210.1 1418.3H221.6V1427.6H210.1zM758.1 1436.8H769.5V1446.1H758.1zM358.5 1446.1H370V1455.3H358.5zM735.3 1446.1H746.7V1455.3H735.3z"/>
<path fill="#72b3f4" d="M735.3 992.8H746.7V1002.1H735.3zM655.4 1011.3H666.8V1020.6H655.4zM335.7 1020.6H347.1V1029.8H335.7zM358.5 1020.6H370V1029.8H358.5zM233 1307.3H244.4V1316.6H233zM381.4 1436.8H392.8V1446.1H381.4zM735.3 1436.8H746.7V1446.1H735.3zM290 1446.1H312.9V1455.3H290zM746.7 1446.1H758.1V1455.3H746.7z"/>
<path fill="#39a7f7" d="M198.7 1002.1H210.1V1011.3H198.7zM278.6 1039.1H290V1048.3H278.6zM290 1066.8H301.5V1076.1H290zM552.6 1066.8H564V1076.1H552.6zM198.7 1076.1H210.1V1085.3H198.7zM221.6 1076.1H233V1085.3H221.6zM244.4 1076.1H255.8V1085.3H244.4zM415.6 1103.8H427V1113.1H415.6zM381.4 1131.6H392.8V1140.8H381.4zM518.4 1131.6H529.8V1140.8H518.4zM723.9 1131.6H735.3V1140.8H723.9zM735.3 1140.8H746.7V1150.1H735.3zM198.7 1159.3H210.1V1168.6H198.7zM255.8 1261.1H267.2V1270.3H255.8zM575.4 1270.3H586.9V1279.6H575.4zM221.6 1298.1H233V1307.3H221.6zM278.6 1362.8H290V1372.1H278.6zM210.1 1381.3H221.6V1390.6H210.1zM598.3 1390.6H609.7V1399.8H598.3zM723.9 1409.1H735.3V1418.3H723.9zM278.6 1418.3H290V1427.6H278.6zM392.8 1436.8H404.2V1446.1H392.8zM701 1436.8H712.4V1446.1H701zM723.9 1436.8H735.3V1446.1H723.9z"/>
<path fill="#3ca7f7" d="M210.1 1002.1H221.6V1011.3H210.1zM267.2 1039.1H278.6V1048.3H267.2zM312.9 1039.1H324.3V1048.3H312.9zM404.2 1039.1H415.6V1048.3H404.2zM210.1 1076.1H221.6V1085.3H210.1zM712.4 1094.6H723.9V1103.8H712.4zM221.6 1168.6H233V1177.8H221.6zM221.6 1224.1H233V1233.3H221.6zM746.7 1270.3H758.1V1279.6H746.7zM244.4 1399.8H255.8V1409.1H244.4zM449.9 1427.6H461.3V1436.8H449.9z"/>
<path fill="#2a95df" d="M221.6 1002.1H233V1011.3H221.6zM347.1 1002.1H358.5V1011.3H347.1zM564 1002.1H575.4V1011.3H564zM655.4 1002.1H666.8V1011.3H655.4zM278.6 1011.3H290V1020.6H278.6zM381.4 1011.3H392.8V1020.6H381.4zM392.8 1048.3H404.2V1057.6H392.8zM324.3 1057.6H335.7V1066.8H324.3zM324.3 1076.1H335.7V1085.3H324.3zM461.3 1103.8H472.7V1113.1H461.3zM507 1103.8H518.4V1113.1H507zM552.6 1131.6H564V1140.8H552.6zM210.1 1168.6H221.6V1177.8H210.1zM335.7 1168.6H347.1V1177.8H335.7zM735.3 1168.6H746.7V1177.8H735.3zM666.8 1177.8H678.2V1187.1H666.8zM712.4 1196.3H723.9V1205.6H712.4zM255.8 1214.8H267.2V1224.1H255.8zM381.4 1233.3H392.8V1242.6H381.4zM381.4 1298.1H392.8V1307.3H381.4zM347.1 1307.3H358.5V1316.6H347.1zM233 1325.8H244.4V1335.1H233zM255.8 1335.1H267.2V1344.3H255.8zM301.5 1362.8H324.3V1372.1H301.5zM598.3 1381.3H609.7V1390.6H598.3zM621.1 1381.3H632.5V1390.6H621.1zM552.6 1436.8H564V1446.1H552.6zM621.1 1436.8H632.5V1446.1H621.1z"/>
<path fill="#2b99e6" d="M233 1002.1H244.4V1011.3H233zM370 1002.1H381.4V1011.3H370zM735.3 1002.1H746.7V1011.3H735.3zM370 1029.8H381.4V1039.1H370zM210.1 1039.1H221.6V1048.3H210.1zM255.8 1048.3H267.2V1057.6H255.8zM278.6 1048.3H290V1057.6H278.6zM347.1 1057.6H358.5V1066.8H347.1zM358.5 1159.3H370V1168.6H358.5zM541.2 1251.8H552.6V1261.1H541.2zM575.4 1279.6H586.9V1288.8H575.4zM735.3 1307.3H746.7V1316.6H735.3zM244.4 1325.8H255.8V1335.1H244.4zM723.9 1325.8H735.3V1335.1H723.9zM507 1344.3H518.4V1353.6H507zM723.9 1344.3H735.3V1353.6H723.9zM529.8 1353.6H541.2V1362.8H529.8zM244.4 1372.1H255.8V1381.3H244.4zM301.5 1390.6H312.9V1399.8H301.5zM301.5 1418.3H312.9V1427.6H301.5zM198.7 1427.6H210.1V1436.8H198.7zM735.3 1427.6H746.7V1436.8H735.3zM758.1 1427.6H769.5V1436.8H758.1zM632.5 1436.8H643.9V1446.1H632.5z"/>
<path fill="#2d9eed" d="M267.2 1002.1H278.6V1011.3H267.2zM518.4 1039.1H529.8V1048.3H518.4zM381.4 1076.1H392.8V1085.3H381.4zM484.1 1085.3H495.5V1094.6H484.1zM404.2 1113.1H415.6V1122.3H404.2zM666.8 1113.1H678.2V1122.3H666.8zM621.1 1122.3H632.5V1131.6H621.1zM472.7 1140.8H484.1V1150.1H472.7zM381.4 1187.1H392.8V1196.3H381.4zM655.4 1196.3H666.8V1205.6H655.4zM278.6 1214.8H290V1224.1H278.6zM541.2 1224.1H552.6V1233.3H541.2zM392.8 1251.8H404.2V1261.1H392.8zM392.8 1316.6H404.2V1325.8H392.8zM347.1 1399.8H358.5V1409.1H347.1zM381.4 1409.1H392.8V1418.3H381.4zM564 1409.1H575.4V1418.3H564z"/>
<path fill="#2e86c8" d="M301.5 1002.1H312.9V1011.3H301.5zM415.6 1002.1H427V1011.3H415.6zM632.5 1057.6H643.9V1066.8H632.5zM392.8 1076.1H404.2V1085.3H392.8zM689.6 1076.1H701V1085.3H689.6zM484.1 1113.1H495.5V1122.3H484.1zM723.9 1159.3H735.3V1168.6H723.9zM564 1177.8H575.4V1187.1H564zM746.7 1214.8H758.1V1224.1H746.7zM244.4 1251.8H255.8V1261.1H244.4zM518.4 1251.8H529.8V1261.1H518.4zM472.7 1316.6H484.1V1325.8H472.7zM335.7 1427.6H347.1V1436.8H335.7zM575.4 1427.6H586.9V1436.8H575.4z"/>
<path fill="#2fa1f1" d="M312.9 1002.1H324.3V1011.3H312.9zM404.2 1011.3H415.6V1020.6H404.2zM461.3 1057.6H472.7V1066.8H461.3zM347.1 1103.8H358.5V1113.1H347.1zM518.4 1103.8H529.8V1113.1H518.4zM392.8 1131.6H404.2V1140.8H392.8zM632.5 1131.6H643.9V1140.8H632.5zM518.4 1140.8H529.8V1150.1H518.4zM495.5 1168.6H507V1177.8H495.5zM632.5 1177.8H643.9V1187.1H632.5zM666.8 1187.1H678.2V1196.3H666.8zM221.6 1205.6H233V1214.8H221.6zM404.2 1233.3H415.6V1242.6H404.2zM564 1261.1H575.4V1270.3H564zM564 1270.3H575.4V1279.6H564zM621.1 1288.8H632.5V1298.1H621.1zM712.4 1316.6H723.9V1325.8H712.4zM244.4 1335.1H255.8V1344.3H244.4zM655.4 1446.1H666.8V1455.3H655.4z"/>
<path fill="#2a98e3" d="M335.7 1002.1H347.1V1011.3H335.7zM678.2 1029.8H689.6V1039.1H678.2zM415.6 1048.3H427V1057.6H415.6zM358.5 1066.8H370V1076.1H358.5zM438.5 1066.8H449.9V1076.1H438.5zM415.6 1113.1H427V1122.3H415.6zM461.3 1168.6H472.7V1177.8H461.3zM255.8 1279.6H267.2V1288.8H255.8zM575.4 1298.1H586.9V1307.3H575.4zM210.1 1362.8H221.6V1372.1H210.1zM255.8 1362.8H267.2V1372.1H255.8zM746.7 1390.6H758.1V1399.8H746.7zM290 1399.8H301.5V1409.1H290z"/>
<path fill="#34a6f7" d="M358.5 1002.1H370V1011.3H358.5zM392.8 1002.1H404.2V1011.3H392.8zM335.7 1011.3H347.1V1020.6H335.7zM415.6 1029.8H427V1039.1H415.6zM427 1057.6H438.5V1066.8H427zM290 1214.8H301.5V1224.1H290zM210.1 1288.8H221.6V1298.1H210.1zM324.3 1372.1H335.7V1381.3H324.3zM598.3 1427.6H609.7V1436.8H598.3zM472.7 1446.1H484.1V1455.3H472.7z"/>
<path fill="#2a99e5" d="M381.4 1002.1H392.8V1011.3H381.4zM347.1 1020.6H358.5V1029.8H347.1zM301.5 1094.6H312.9V1103.8H301.5zM210.1 1279.6H221.6V1288.8H210.1zM198.7 1288.8H210.1V1298.1H198.7zM335.7 1353.6H347.1V1362.8H335.7zM712.4 1418.3H723.9V1427.6H712.4z"/>
<path fill="#2a95e0" d="M404.2 1002.1H415.6V1011.3H404.2zM290 1020.6H301.5V1029.8H290zM370 1020.6H381.4V1029.8H370zM689.6 1039.1H701V1048.3H689.6zM221.6 1103.8H233V1113.1H221.6zM312.9 1103.8H324.3V1113.1H312.9zM278.6 1131.6H290V1140.8H278.6zM735.3 1131.6H746.7V1140.8H735.3zM244.4 1140.8H255.8V1150.1H244.4zM370 1159.3H381.4V1168.6H370zM415.6 1159.3H427V1168.6H415.6zM678.2 1261.1H689.6V1270.3H678.2zM712.4 1279.6H723.9V1288.8H712.4zM735.3 1279.6H746.7V1288.8H735.3zM586.9 1288.8H598.3V1298.1H586.9zM290 1298.1H301.5V1307.3H290zM267.2 1344.3H278.6V1353.6H267.2zM575.4 1353.6H586.9V1362.8H575.4zM678.2 1372.1H689.6V1381.3H678.2zM689.6 1390.6H701V1399.8H689.6z"/>
<path fill="#2a90d8" d="M427 1002.1H438.5V1011.3H427zM370 1011.3H381.4V1020.6H370zM598.3 1029.8H609.7V1039.1H598.3zM723.9 1029.8H735.3V1039.1H723.9zM461.3 1039.1H472.7V1048.3H461.3zM370 1057.6H381.4V1066.8H370zM472.7 1057.6H484.1V1066.8H472.7zM723.9 1066.8H735.3V1076.1H723.9zM358.5 1094.6H381.4V1103.8H358.5zM598.3 1113.1H609.7V1122.3H598.3zM392.8 1122.3H404.2V1131.6H392.8zM484.1 1122.3H495.5V1131.6H484.1zM586.9 1122.3H598.3V1131.6H586.9zM609.7 1122.3H621.1V1131.6H609.7zM643.9 1131.6H655.4V1140.8H643.9zM689.6 1131.6H701V1140.8H689.6zM621.1 1140.8H632.5V1150.1H621.1zM244.4 1150.1H255.8V1159.3H244.4zM415.6 1168.6H427V1177.8H415.6zM381.4 1177.8H392.8V1187.1H381.4zM586.9 1187.1H598.3V1196.3H586.9zM689.6 1187.1H701V1196.3H689.6zM221.6 1196.3H233V1205.6H221.6zM381.4 1205.6H392.8V1214.8H381.4zM564 1224.1H575.4V1233.3H564zM689.6 1224.1H701V1233.3H689.6zM255.8 1233.3H267.2V1242.6H255.8zM586.9 1242.6H598.3V1251.8H586.9zM255.8 1251.8H267.2V1261.1H255.8zM712.4 1261.1H723.9V1270.3H712.4zM358.5 1270.3H370V1279.6H358.5zM427 1270.3H438.5V1279.6H427zM678.2 1270.3H689.6V1279.6H678.2zM381.4 1316.6H392.8V1325.8H381.4zM609.7 1325.8H621.1V1335.1H609.7zM529.8 1335.1H541.2V1344.3H529.8zM586.9 1353.6H598.3V1362.8H586.9zM712.4 1362.8H723.9V1372.1H712.4zM370 1381.3H381.4V1390.6H370zM449.9 1381.3H461.3V1390.6H449.9zM758.1 1399.8H769.5V1409.1H758.1zM404.2 1418.3H415.6V1427.6H404.2zM507 1418.3H518.4V1427.6H507zM472.7 1436.8H484.1V1446.1H472.7zM495.5 1436.8H507V1446.1H495.5z"/>
<path fill="#3081bf" d="M438.5 1002.1H449.9V1011.3H438.5zM586.9 1002.1H598.3V1011.3H586.9zM723.9 1020.6H735.3V1029.8H723.9zM518.4 1057.6H529.8V1066.8H518.4zM541.2 1057.6H552.6V1066.8H541.2zM746.7 1076.1H758.1V1085.3H746.7zM290 1085.3H301.5V1094.6H290zM312.9 1085.3H324.3V1094.6H312.9zM392.8 1085.3H404.2V1094.6H392.8zM427 1085.3H438.5V1094.6H427zM472.7 1085.3H484.1V1094.6H472.7zM381.4 1094.6H392.8V1103.8H381.4zM301.5 1122.3H312.9V1131.6H301.5zM347.1 1131.6H358.5V1140.8H347.1zM370 1131.6H381.4V1140.8H370zM746.7 1159.3H758.1V1168.6H746.7zM643.9 1168.6H655.4V1177.8H643.9zM392.8 1177.8H404.2V1187.1H392.8zM301.5 1196.3H312.9V1205.6H301.5zM643.9 1233.3H655.4V1242.6H643.9zM632.5 1242.6H643.9V1251.8H632.5zM392.8 1261.1H404.2V1270.3H392.8zM449.9 1288.8H461.3V1298.1H449.9zM461.3 1307.3H472.7V1316.6H461.3zM564 1307.3H575.4V1316.6H564zM267.2 1325.8H278.6V1335.1H267.2zM655.4 1325.8H666.8V1335.1H655.4zM552.6 1335.1H564V1344.3H552.6zM598.3 1335.1H609.7V1344.3H598.3zM358.5 1399.8H370V1409.1H358.5zM598.3 1399.8H609.7V1409.1H598.3zM586.9 1409.1H598.3V1418.3H586.9z"/>
<path fill="#2a93dd" d="M449.9 1002.1H461.3V1011.3H449.9zM575.4 1002.1H586.9V1011.3H575.4zM290 1011.3H301.5V1020.6H290zM335.7 1057.6H347.1V1066.8H335.7zM507 1085.3H518.4V1094.6H507zM529.8 1094.6H541.2V1103.8H529.8zM507 1131.6H518.4V1140.8H507zM564 1131.6H575.4V1140.8H564zM255.8 1140.8H267.2V1150.1H255.8zM370 1140.8H381.4V1150.1H370zM290 1177.8H301.5V1187.1H290zM427 1187.1H438.5V1196.3H427zM290 1196.3H301.5V1205.6H290zM701 1196.3H712.4V1205.6H701zM244.4 1205.6H255.8V1214.8H244.4zM678.2 1224.1H689.6V1233.3H678.2zM746.7 1224.1H758.1V1233.3H746.7zM324.3 1242.6H335.7V1251.8H324.3zM678.2 1251.8H689.6V1261.1H678.2zM575.4 1261.1H586.9V1270.3H575.4zM415.6 1270.3H427V1279.6H415.6zM335.7 1298.1H347.1V1307.3H335.7zM586.9 1298.1H598.3V1307.3H586.9zM541.2 1325.8H564V1335.1H541.2zM689.6 1325.8H701V1335.1H689.6zM586.9 1344.3H598.3V1353.6H586.9zM735.3 1362.8H746.7V1372.1H735.3zM666.8 1372.1H678.2V1381.3H666.8zM278.6 1390.6H290V1399.8H278.6zM449.9 1409.1H461.3V1418.3H449.9zM290 1418.3H301.5V1427.6H290zM518.4 1418.3H529.8V1427.6H518.4zM575.4 1418.3H586.9V1427.6H575.4zM255.8 1427.6H267.2V1436.8H255.8zM495.5 1446.1H507V1455.3H495.5z"/>
<path fill="#2f82c2" d="M461.3 1002.1H472.7V1011.3H461.3zM507 1011.3H518.4V1020.6H507zM427 1020.6H449.9V1029.8H427zM609.7 1029.8H621.1V1039.1H609.7zM609.7 1039.1H632.5V1048.3H609.7zM381.4 1048.3H392.8V1057.6H381.4zM518.4 1066.8H541.2V1076.1H518.4zM449.9 1122.3H461.3V1131.6H449.9zM701 1131.6H712.4V1140.8H701zM404.2 1150.1H415.6V1159.3H404.2zM290 1159.3H301.5V1168.6H290zM678.2 1168.6H689.6V1177.8H678.2zM324.3 1177.8H335.7V1187.1H324.3zM312.9 1214.8H324.3V1224.1H312.9zM392.8 1242.6H404.2V1251.8H392.8zM723.9 1298.1H735.3V1307.3H723.9zM324.3 1335.1H335.7V1344.3H324.3zM392.8 1381.3H404.2V1390.6H392.8zM609.7 1418.3H621.1V1427.6H609.7zM507 1427.6H518.4V1436.8H507zM643.9 1427.6H655.4V1436.8H643.9zM643.9 1436.8H655.4V1446.1H643.9zM484.1 1446.1H495.5V1455.3H484.1z"/>
<path fill="#2a92db" d="M472.7 1002.1H495.5V1011.3H472.7zM689.6 1011.3H701V1020.6H689.6zM735.3 1011.3H746.7V1020.6H735.3zM701 1029.8H712.4V1039.1H701zM552.6 1039.1H564V1048.3H552.6zM586.9 1039.1H609.7V1048.3H586.9zM575.4 1048.3H586.9V1057.6H575.4zM290 1076.1H301.5V1085.3H290zM335.7 1076.1H347.1V1085.3H335.7zM621.1 1076.1H632.5V1085.3H621.1zM712.4 1076.1H723.9V1085.3H712.4zM347.1 1085.3H358.5V1094.6H347.1zM404.2 1085.3H415.6V1094.6H404.2zM586.9 1085.3H598.3V1094.6H586.9zM655.4 1085.3H666.8V1094.6H655.4zM404.2 1094.6H415.6V1103.8H404.2zM666.8 1094.6H678.2V1103.8H666.8zM723.9 1094.6H735.3V1103.8H723.9zM233 1103.8H244.4V1113.1H233zM335.7 1103.8H347.1V1113.1H335.7zM655.4 1103.8H666.8V1113.1H655.4zM312.9 1113.1H335.7V1122.3H312.9zM427 1113.1H438.5V1122.3H427zM643.9 1113.1H655.4V1122.3H643.9zM575.4 1122.3H586.9V1131.6H575.4zM438.5 1131.6H449.9V1140.8H438.5zM290 1140.8H301.5V1150.1H290zM427 1140.8H438.5V1150.1H427zM427 1150.1H438.5V1159.3H427zM735.3 1159.3H746.7V1168.6H735.3zM278.6 1168.6H290V1177.8H278.6zM392.8 1168.6H404.2V1177.8H392.8zM586.9 1168.6H598.3V1177.8H586.9zM278.6 1177.8H290V1187.1H278.6zM221.6 1187.1H233V1196.3H221.6zM712.4 1187.1H723.9V1196.3H712.4zM586.9 1196.3H598.3V1205.6H586.9zM233 1205.6H244.4V1214.8H233zM643.9 1205.6H655.4V1214.8H643.9zM758.1 1214.8H769.5V1224.1H758.1zM427 1224.1H438.5V1233.3H427zM244.4 1242.6H255.8V1251.8H244.4zM210.1 1251.8H221.6V1261.1H210.1zM404.2 1251.8H415.6V1261.1H404.2zM666.8 1251.8H678.2V1261.1H666.8zM552.6 1279.6H564V1288.8H552.6zM701 1279.6H712.4V1288.8H701zM358.5 1288.8H370V1298.1H358.5zM529.8 1288.8H541.2V1298.1H529.8zM666.8 1288.8H678.2V1298.1H666.8zM404.2 1298.1H415.6V1307.3H404.2zM427 1298.1H438.5V1307.3H427zM461.3 1298.1H472.7V1307.3H461.3zM598.3 1298.1H621.1V1307.3H598.3zM678.2 1298.1H689.6V1307.3H678.2zM278.6 1307.3H290V1316.6H278.6zM564 1316.6H575.4V1325.8H564zM552.6 1353.6H564V1362.8H552.6zM712.4 1353.6H723.9V1362.8H712.4zM358.5 1362.8H370V1372.1H358.5zM552.6 1362.8H564V1372.1H552.6zM381.4 1372.1H392.8V1381.3H381.4zM701 1372.1H712.4V1381.3H701zM381.4 1381.3H392.8V1390.6H381.4zM301.5 1409.1H312.9V1418.3H301.5zM404.2 1409.1H415.6V1418.3H404.2zM472.7 1409.1H484.1V1418.3H472.7zM678.2 1409.1H701V1418.3H678.2zM689.6 1418.3H701V1427.6H689.6zM244.4 1427.6H255.8V1436.8H244.4zM324.3 1427.6H335.7V1436.8H324.3zM552.6 1427.6H564V1436.8H552.6zM666.8 1436.8H678.2V1446.1H666.8zM438.5 1446.1H449.9V1455.3H438.5z"/>
<path fill="#3872a4" d="M495.5 1002.1H507V1011.3H495.5zM541.2 1020.6H552.6V1029.8H541.2zM575.4 1251.8H586.9V1261.1H575.4zM598.3 1251.8H609.7V1261.1H598.3zM541.2 1298.1H552.6V1307.3H541.2zM335.7 1316.6H347.1V1325.8H335.7zM290 1335.1H301.5V1344.3H290zM358.5 1381.3H370V1390.6H358.5z"/>
<path fill="#2b8dd2" d="M507 1002.1H518.4V1011.3H507zM655.4 1122.3H666.8V1131.6H655.4zM746.7 1168.6H758.1V1177.8H746.7zM415.6 1187.1H427V1196.3H415.6zM666.8 1214.8H678.2V1224.1H666.8zM461.3 1261.1H472.7V1270.3H461.3zM598.3 1316.6H609.7V1325.8H598.3zM621.1 1372.1H632.5V1381.3H621.1zM564 1381.3H575.4V1390.6H564zM438.5 1390.6H449.9V1399.8H438.5zM461.3 1390.6H472.7V1399.8H461.3z"/>
<path fill="#3081c0" d="M518.4 1002.1H541.2V1011.3H518.4zM312.9 1011.3H324.3V1020.6H312.9zM415.6 1020.6H427V1029.8H415.6zM529.8 1020.6H541.2V1029.8H529.8zM586.9 1020.6H598.3V1029.8H586.9zM723.9 1057.6H735.3V1066.8H723.9zM461.3 1076.1H472.7V1085.3H461.3zM449.9 1113.1H461.3V1122.3H449.9zM335.7 1122.3H347.1V1131.6H335.7zM278.6 1150.1H290V1159.3H278.6zM541.2 1159.3H552.6V1168.6H541.2zM324.3 1205.6H335.7V1214.8H324.3zM233 1214.8H244.4V1224.1H233zM621.1 1233.3H632.5V1242.6H621.1zM221.6 1242.6H233V1251.8H221.6zM609.7 1316.6H621.1V1325.8H609.7zM518.4 1325.8H529.8V1335.1H518.4zM678.2 1344.3H689.6V1353.6H678.2zM324.3 1381.3H335.7V1390.6H324.3zM335.7 1409.1H347.1V1418.3H335.7zM392.8 1409.1H404.2V1418.3H392.8zM701 1418.3H712.4V1427.6H701zM370 1427.6H381.4V1436.8H370z"/>
<path fill="#317fbb" d="M541.2 1002.1H552.6V1011.3H541.2zM472.7 1020.6H484.1V1029.8H472.7zM529.8 1057.6H541.2V1066.8H529.8zM370 1066.8H381.4V1076.1H370zM746.7 1066.8H758.1V1076.1H746.7zM278.6 1113.1H290V1122.3H278.6zM678.2 1131.6H689.6V1140.8H678.2zM290 1150.1H301.5V1159.3H290zM495.5 1150.1H507V1159.3H495.5zM655.4 1150.1H666.8V1159.3H655.4zM427 1168.6H438.5V1177.8H427zM404.2 1177.8H415.6V1187.1H404.2zM655.4 1233.3H666.8V1242.6H655.4zM598.3 1270.3H609.7V1279.6H598.3zM301.5 1325.8H312.9V1335.1H301.5zM381.4 1390.6H392.8V1399.8H381.4zM484.1 1436.8H495.5V1446.1H484.1z"/>
<path fill="#2a91da" d="M552.6 1002.1H564V1011.3H552.6zM666.8 1002.1H678.2V1011.3H666.8zM701 1002.1H712.4V1011.3H701zM666.8 1020.6H678.2V1029.8H666.8zM643.9 1029.8H655.4V1039.1H643.9zM643.9 1039.1H655.4V1048.3H643.9zM529.8 1048.3H541.2V1057.6H529.8zM746.7 1057.6H758.1V1066.8H746.7zM586.9 1066.8H598.3V1076.1H586.9zM643.9 1085.3H655.4V1094.6H643.9zM347.1 1094.6H358.5V1103.8H347.1zM404.2 1103.8H415.6V1113.1H404.2zM427 1103.8H438.5V1113.1H427zM643.9 1103.8H655.4V1113.1H643.9zM621.1 1131.6H632.5V1140.8H621.1zM381.4 1168.6H392.8V1177.8H381.4zM575.4 1168.6H586.9V1177.8H575.4zM335.7 1177.8H347.1V1187.1H335.7zM621.1 1196.3H632.5V1205.6H621.1zM735.3 1196.3H746.7V1205.6H735.3zM564 1205.6H575.4V1214.8H564zM370 1270.3H381.4V1279.6H370zM666.8 1270.3H678.2V1279.6H666.8zM381.4 1279.6H392.8V1288.8H381.4zM415.6 1288.8H427V1298.1H415.6zM461.3 1288.8H472.7V1298.1H461.3zM324.3 1298.1H335.7V1307.3H324.3zM438.5 1307.3H449.9V1316.6H438.5zM472.7 1307.3H484.1V1316.6H472.7zM358.5 1325.8H370V1335.1H358.5zM518.4 1335.1H529.8V1344.3H518.4zM312.9 1353.6H324.3V1362.8H312.9zM392.8 1372.1H404.2V1381.3H392.8zM609.7 1381.3H621.1V1390.6H609.7zM723.9 1381.3H735.3V1390.6H723.9zM746.7 1399.8H758.1V1409.1H746.7z"/>
<path fill="#2e86c7" d="M598.3 1002.1H609.7V1011.3H598.3zM449.9 1057.6H461.3V1066.8H449.9zM712.4 1066.8H723.9V1076.1H712.4zM632.5 1076.1H643.9V1085.3H632.5zM541.2 1085.3H552.6V1094.6H541.2zM210.1 1140.8H221.6V1150.1H210.1zM712.4 1140.8H723.9V1150.1H712.4zM335.7 1159.3H347.1V1168.6H335.7zM404.2 1261.1H415.6V1270.3H404.2zM449.9 1298.1H461.3V1307.3H449.9zM290 1316.6H301.5V1325.8H290zM301.5 1344.3H312.9V1353.6H301.5zM335.7 1362.8H347.1V1372.1H335.7zM210.1 1372.1H221.6V1381.3H210.1zM643.9 1409.1H655.4V1418.3H643.9zM518.4 1436.8H529.8V1446.1H518.4z"/>
<path fill="#2a8fd7" d="M632.5 1002.1H643.9V1011.3H632.5zM461.3 1029.8H472.7V1039.1H461.3zM678.2 1057.6H689.6V1066.8H678.2zM472.7 1076.1H484.1V1085.3H472.7zM370 1103.8H381.4V1113.1H370zM438.5 1113.1H449.9V1122.3H438.5zM312.9 1122.3H324.3V1131.6H312.9zM358.5 1131.6H370V1140.8H358.5zM415.6 1131.6H427V1140.8H415.6zM449.9 1140.8H461.3V1150.1H449.9zM484.1 1150.1H495.5V1159.3H484.1zM370 1168.6H381.4V1177.8H370zM244.4 1187.1H255.8V1196.3H244.4zM564 1196.3H575.4V1205.6H564zM472.7 1279.6H484.1V1288.8H472.7zM267.2 1307.3H278.6V1316.6H267.2zM575.4 1316.6H586.9V1325.8H575.4zM312.9 1335.1H324.3V1344.3H312.9zM655.4 1335.1H666.8V1344.3H655.4zM655.4 1362.8H666.8V1372.1H655.4zM586.9 1381.3H598.3V1390.6H586.9zM678.2 1390.6H689.6V1399.8H678.2zM427 1409.1H438.5V1418.3H427zM484.1 1409.1H495.5V1418.3H484.1zM381.4 1427.6H392.8V1436.8H381.4zM507 1436.8H518.4V1446.1H507z"/>
<path fill="#3773a7" d="M643.9 1002.1H655.4V1011.3H643.9zM507 1057.6H518.4V1066.8H507zM655.4 1066.8H666.8V1076.1H655.4zM449.9 1076.1H461.3V1085.3H449.9zM701 1113.1H712.4V1122.3H701zM643.9 1140.8H655.4V1150.1H643.9zM689.6 1205.6H701V1214.8H689.6zM609.7 1344.3H621.1V1353.6H609.7zM575.4 1390.6H586.9V1399.8H575.4zM712.4 1409.1H723.9V1418.3H712.4zM461.3 1418.3H472.7V1427.6H461.3z"/>
<path fill="#2a8ed5" d="M678.2 1002.1H689.6V1011.3H678.2zM438.5 1039.1H449.9V1048.3H438.5zM621.1 1113.1H632.5V1122.3H621.1zM712.4 1131.6H723.9V1140.8H712.4zM632.5 1205.6H643.9V1214.8H632.5zM541.2 1261.1H552.6V1270.3H541.2zM552.6 1288.8H564V1298.1H552.6zM347.1 1335.1H358.5V1344.3H347.1zM278.6 1344.3H290V1353.6H278.6zM541.2 1344.3H552.6V1353.6H541.2zM564 1362.8H575.4V1372.1H564zM552.6 1390.6H564V1399.8H552.6zM449.9 1399.8H461.3V1409.1H449.9zM655.4 1399.8H666.8V1409.1H655.4zM415.6 1409.1H427V1418.3H415.6zM427 1418.3H438.5V1427.6H427z"/>
<path fill="#3d6185" d="M689.6 1002.1H701V1011.3H689.6zM632.5 1224.1H643.9V1233.3H632.5zM427 1261.1H438.5V1270.3H427z"/>
<path fill="#2b9ae8" d="M712.4 1002.1H723.9V1011.3H712.4zM735.3 1205.6H746.7V1214.8H735.3zM221.6 1288.8H233V1298.1H221.6zM210.1 1335.1H221.6V1344.3H210.1zM221.6 1344.3H233V1353.6H221.6zM735.3 1353.6H746.7V1362.8H735.3zM392.8 1390.6H404.2V1399.8H392.8zM415.6 1436.8H427V1446.1H415.6z"/>
<path fill="#76b5f4" d="M758.1 1002.1H769.5V1011.3H758.1zM758.1 1011.3H769.5V1020.6H758.1zM198.7 1039.1H210.1V1048.3H198.7zM278.6 1094.6H290V1103.8H278.6zM210.1 1103.8H221.6V1113.1H210.1zM758.1 1187.1H769.5V1196.3H758.1zM312.9 1261.1H324.3V1270.3H312.9zM746.7 1436.8H758.1V1446.1H746.7zM267.2 1446.1H278.6V1455.3H267.2zM347.1 1446.1H358.5V1455.3H347.1z"/>
<path fill="#a0c4ef" d="M210.1 1011.3H221.6V1020.6H210.1zM233 1409.1H244.4V1418.3H233zM198.7 1436.8H210.1V1446.1H198.7z"/>
<path fill="#4eabf7" d="M255.8 1011.3H267.2V1020.6H255.8zM233 1048.3H244.4V1057.6H233zM267.2 1057.6H278.6V1066.8H267.2zM255.8 1094.6H267.2V1103.8H255.8zM427 1177.8H438.5V1187.1H427zM404.2 1381.3H415.6V1390.6H404.2z"/>
<path fill="#2a91d9" d="M301.5 1011.3H312.9V1020.6H301.5zM472.7 1066.8H484.1V1076.1H472.7zM415.6 1085.3H427V1094.6H415.6zM495.5 1094.6H507V1103.8H495.5zM564 1113.1H575.4V1122.3H564zM655.4 1131.6H666.8V1140.8H655.4zM552.6 1140.8H564V1150.1H552.6zM518.4 1168.6H529.8V1177.8H518.4zM244.4 1233.3H255.8V1242.6H244.4zM290 1242.6H312.9V1251.8H290zM655.4 1242.6H666.8V1251.8H655.4zM324.3 1251.8H335.7V1261.1H324.3zM221.6 1261.1H233V1270.3H221.6zM267.2 1270.3H278.6V1279.6H267.2zM404.2 1270.3H415.6V1279.6H404.2zM449.9 1270.3H461.3V1279.6H449.9zM358.5 1279.6H370V1288.8H358.5zM438.5 1279.6H449.9V1288.8H438.5zM415.6 1298.1H427V1307.3H415.6zM666.8 1307.3H678.2V1316.6H666.8zM575.4 1325.8H586.9V1335.1H575.4zM541.2 1335.1H552.6V1344.3H541.2zM358.5 1353.6H370V1362.8H358.5zM541.2 1353.6H552.6V1362.8H541.2zM461.3 1381.3H472.7V1390.6H461.3zM689.6 1399.8H701V1409.1H689.6zM735.3 1399.8H746.7V1409.1H735.3zM758.1 1409.1H769.5V1418.3H758.1zM392.8 1427.6H404.2V1436.8H392.8z"/>
<path fill="#2f83c2" d="M347.1 1011.3H358.5V1020.6H347.1zM746.7 1011.3H758.1V1020.6H746.7zM586.9 1029.8H598.3V1039.1H586.9zM461.3 1048.3H472.7V1057.6H461.3zM609.7 1057.6H621.1V1066.8H609.7zM495.5 1066.8H507V1076.1H495.5zM370 1076.1H381.4V1085.3H370zM632.5 1085.3H643.9V1094.6H632.5zM575.4 1103.8H586.9V1113.1H575.4zM267.2 1113.1H278.6V1122.3H267.2zM278.6 1122.3H290V1131.6H278.6zM518.4 1122.3H529.8V1131.6H518.4zM529.8 1140.8H541.2V1150.1H529.8zM689.6 1140.8H701V1150.1H689.6zM689.6 1150.1H701V1159.3H689.6zM643.9 1196.3H655.4V1205.6H643.9zM678.2 1214.8H689.6V1224.1H678.2zM438.5 1270.3H449.9V1279.6H438.5zM267.2 1288.8H278.6V1298.1H267.2zM735.3 1288.8H746.7V1298.1H735.3zM449.9 1316.6H461.3V1325.8H449.9zM278.6 1325.8H290V1335.1H278.6zM312.9 1325.8H324.3V1335.1H312.9zM621.1 1353.6H632.5V1362.8H621.1zM609.7 1409.1H621.1V1418.3H609.7z"/>
<path fill="#2f84c5" d="M415.6 1011.3H427V1020.6H415.6zM484.1 1011.3H495.5V1020.6H484.1zM507 1039.1H518.4V1048.3H507zM415.6 1066.8H427V1076.1H415.6zM586.9 1076.1H598.3V1085.3H586.9zM461.3 1094.6H472.7V1103.8H461.3zM484.1 1094.6H495.5V1103.8H484.1zM632.5 1103.8H643.9V1113.1H632.5zM678.2 1122.3H689.6V1131.6H678.2zM267.2 1131.6H278.6V1140.8H267.2zM347.1 1140.8H358.5V1150.1H347.1zM461.3 1140.8H472.7V1150.1H461.3zM267.2 1159.3H278.6V1168.6H267.2zM678.2 1159.3H689.6V1168.6H678.2zM312.9 1196.3H324.3V1205.6H312.9zM712.4 1224.1H723.9V1233.3H712.4zM746.7 1242.6H758.1V1251.8H746.7zM712.4 1288.8H723.9V1298.1H712.4zM392.8 1307.3H404.2V1316.6H392.8zM221.6 1325.8H233V1335.1H221.6zM221.6 1372.1H233V1381.3H221.6zM290 1390.6H301.5V1399.8H290z"/>
<path fill="#317fbc" d="M438.5 1011.3H449.9V1020.6H438.5zM518.4 1020.6H529.8V1029.8H518.4zM609.7 1076.1H621.1V1085.3H609.7zM358.5 1085.3H370V1094.6H358.5zM335.7 1113.1H347.1V1122.3H335.7zM541.2 1150.1H552.6V1159.3H541.2zM632.5 1150.1H643.9V1159.3H632.5zM678.2 1187.1H689.6V1196.3H678.2zM290 1205.6H301.5V1214.8H290zM335.7 1214.8H347.1V1224.1H335.7zM564 1214.8H575.4V1224.1H564zM643.9 1224.1H655.4V1233.3H643.9zM335.7 1233.3H347.1V1242.6H335.7zM233 1270.3H244.4V1279.6H233zM335.7 1279.6H347.1V1288.8H335.7zM529.8 1298.1H541.2V1307.3H529.8zM255.8 1307.3H267.2V1316.6H255.8zM267.2 1316.6H278.6V1325.8H267.2zM461.3 1325.8H472.7V1335.1H461.3zM643.9 1335.1H655.4V1344.3H643.9zM701 1344.3H712.4V1353.6H701zM575.4 1362.8H586.9V1372.1H575.4zM632.5 1362.8H643.9V1372.1H632.5zM404.2 1372.1H415.6V1381.3H404.2zM335.7 1381.3H347.1V1390.6H335.7zM632.5 1381.3H643.9V1390.6H632.5zM324.3 1399.8H335.7V1409.1H324.3z"/>
<path fill="#3082c1" d="M461.3 1011.3H472.7V1020.6H461.3zM701 1011.3H712.4V1020.6H701zM507 1020.6H518.4V1029.8H507zM712.4 1020.6H723.9V1029.8H712.4zM701 1039.1H712.4V1048.3H701zM484.1 1048.3H495.5V1057.6H484.1zM586.9 1048.3H598.3V1057.6H586.9zM689.6 1085.3H701V1094.6H689.6zM290 1094.6H301.5V1103.8H290zM461.3 1113.1H472.7V1122.3H461.3zM210.1 1122.3H221.6V1131.6H210.1zM347.1 1122.3H358.5V1131.6H347.1zM404.2 1122.3H415.6V1131.6H404.2zM541.2 1131.6H552.6V1140.8H541.2zM267.2 1150.1H278.6V1159.3H267.2zM392.8 1159.3H404.2V1168.6H392.8zM678.2 1177.8H689.6V1187.1H678.2zM244.4 1224.1H255.8V1233.3H244.4zM529.8 1316.6H541.2V1325.8H529.8zM484.1 1325.8H495.5V1335.1H484.1zM666.8 1325.8H678.2V1335.1H666.8zM347.1 1427.6H358.5V1436.8H347.1zM415.6 1427.6H427V1436.8H415.6z"/>
<path fill="#2a8fd6" d="M472.7 1011.3H484.1V1020.6H472.7zM632.5 1029.8H643.9V1039.1H632.5zM735.3 1057.6H746.7V1066.8H735.3zM609.7 1066.8H621.1V1076.1H609.7zM335.7 1085.3H347.1V1094.6H335.7zM678.2 1094.6H689.6V1103.8H678.2zM552.6 1122.3H564V1131.6H552.6zM552.6 1159.3H564V1168.6H552.6zM666.8 1168.6H678.2V1177.8H666.8zM244.4 1177.8H255.8V1187.1H244.4zM643.9 1242.6H655.4V1251.8H643.9zM472.7 1270.3H484.1V1279.6H472.7zM427 1288.8H438.5V1298.1H427zM529.8 1307.3H541.2V1316.6H529.8zM529.8 1399.8H541.2V1409.1H529.8zM643.9 1399.8H655.4V1409.1H643.9zM438.5 1409.1H449.9V1418.3H438.5zM370 1418.3H381.4V1427.6H370z"/>
<path fill="#2d9dec" d="M495.5 1011.3H507V1020.6H495.5zM438.5 1076.1H449.9V1085.3H438.5zM655.4 1177.8H666.8V1187.1H655.4zM267.2 1187.1H278.6V1196.3H267.2zM392.8 1196.3H404.2V1205.6H392.8zM552.6 1205.6H564V1214.8H552.6zM244.4 1279.6H255.8V1288.8H244.4zM255.8 1288.8H267.2V1298.1H255.8zM324.3 1409.1H335.7V1418.3H324.3zM495.5 1418.3H507V1427.6H495.5z"/>
<path fill="#347ab3" d="M518.4 1011.3H529.8V1020.6H518.4zM609.7 1150.1H621.1V1159.3H609.7zM529.8 1187.1H541.2V1196.3H529.8zM278.6 1261.1H290V1270.3H278.6zM290 1279.6H301.5V1288.8H290zM507 1298.1H518.4V1307.3H507zM392.8 1325.8H404.2V1335.1H392.8zM495.5 1335.1H507V1344.3H495.5zM370 1399.8H381.4V1409.1H370z"/>
<path fill="#396fa0" d="M529.8 1011.3H541.2V1020.6H529.8zM267.2 1233.3H278.6V1242.6H267.2zM335.7 1251.8H347.1V1261.1H335.7zM701 1251.8H712.4V1261.1H701zM278.6 1279.6H290V1288.8H278.6zM472.7 1288.8H484.1V1298.1H472.7zM278.6 1298.1H290V1307.3H278.6zM643.9 1316.6H666.8V1325.8H643.9zM666.8 1399.8H678.2V1409.1H666.8zM507 1409.1H518.4V1418.3H507z"/>
<path fill="#337cb7" d="M541.2 1011.3H552.6V1020.6H541.2zM449.9 1048.3H461.3V1057.6H449.9zM472.7 1094.6H484.1V1103.8H472.7zM449.9 1159.3H461.3V1168.6H449.9zM484.1 1159.3H495.5V1168.6H484.1zM586.9 1224.1H598.3V1233.3H586.9zM290 1251.8H301.5V1261.1H290zM632.5 1288.8H643.9V1298.1H632.5zM609.7 1307.3H621.1V1316.6H609.7zM586.9 1316.6H598.3V1325.8H586.9zM290 1325.8H301.5V1335.1H290zM484.1 1390.6H495.5V1399.8H484.1zM655.4 1390.6H666.8V1399.8H655.4zM609.7 1399.8H621.1V1409.1H609.7zM392.8 1418.3H404.2V1427.6H392.8z"/>
<path fill="#2d87ca" d="M564 1011.3H575.4V1020.6H564zM689.6 1233.3H701V1242.6H689.6zM746.7 1233.3H758.1V1242.6H746.7zM689.6 1298.1H701V1307.3H689.6zM427 1344.3H438.5V1353.6H427zM575.4 1409.1H586.9V1418.3H575.4z"/>
<path fill="#33a5f6" d="M575.4 1011.3H586.9V1020.6H575.4zM746.7 1029.8H758.1V1039.1H746.7zM541.2 1048.3H552.6V1057.6H541.2zM404.2 1057.6H415.6V1066.8H404.2zM689.6 1057.6H701V1066.8H689.6zM404.2 1066.8H415.6V1076.1H404.2zM701 1066.8H712.4V1076.1H701zM347.1 1076.1H358.5V1085.3H347.1zM507 1094.6H518.4V1103.8H507zM621.1 1094.6H632.5V1103.8H621.1zM643.9 1094.6H655.4V1103.8H643.9zM758.1 1122.3H769.5V1131.6H758.1zM701 1150.1H712.4V1159.3H701zM735.3 1251.8H746.7V1261.1H735.3zM255.8 1270.3H267.2V1279.6H255.8zM586.9 1279.6H598.3V1288.8H586.9zM244.4 1307.3H255.8V1316.6H244.4zM324.3 1307.3H335.7V1316.6H324.3zM735.3 1372.1H746.7V1381.3H735.3zM198.7 1390.6H210.1V1399.8H198.7zM472.7 1427.6H484.1V1436.8H472.7z"/>
<path fill="#2f83c3" d="M609.7 1011.3H621.1V1020.6H609.7zM564 1039.1H575.4V1048.3H564zM643.9 1048.3H655.4V1057.6H643.9zM621.1 1066.8H632.5V1076.1H621.1zM643.9 1066.8H655.4V1076.1H643.9zM564 1076.1H575.4V1085.3H564zM609.7 1085.3H621.1V1094.6H609.7zM495.5 1103.8H507V1113.1H495.5zM438.5 1140.8H449.9V1150.1H438.5zM278.6 1224.1H290V1233.3H278.6zM484.1 1307.3H495.5V1316.6H484.1zM701 1390.6H712.4V1399.8H701z"/>
<path fill="#327eb9" d="M621.1 1011.3H632.5V1020.6H621.1zM586.9 1150.1H598.3V1159.3H586.9zM621.1 1150.1H632.5V1159.3H621.1zM438.5 1159.3H449.9V1168.6H438.5zM655.4 1168.6H666.8V1177.8H655.4zM267.2 1205.6H278.6V1214.8H267.2zM541.2 1205.6H552.6V1214.8H541.2zM358.5 1251.8H370V1261.1H358.5zM598.3 1279.6H609.7V1288.8H598.3zM381.4 1288.8H392.8V1298.1H381.4zM666.8 1298.1H678.2V1307.3H666.8zM358.5 1316.6H381.4V1325.8H358.5zM586.9 1372.1H598.3V1381.3H586.9zM472.7 1399.8H484.1V1409.1H472.7zM586.9 1399.8H598.3V1409.1H586.9z"/>
<path fill="#327db8" d="M632.5 1011.3H643.9V1020.6H632.5zM392.8 1113.1H404.2V1122.3H392.8zM472.7 1113.1H484.1V1122.3H472.7zM507 1140.8H518.4V1150.1H507zM609.7 1140.8H621.1V1150.1H609.7zM449.9 1150.1H461.3V1159.3H449.9zM472.7 1159.3H484.1V1168.6H472.7zM495.5 1159.3H507V1168.6H495.5zM621.1 1159.3H632.5V1168.6H621.1zM643.9 1159.3H655.4V1168.6H643.9zM484.1 1168.6H495.5V1177.8H484.1zM621.1 1168.6H632.5V1177.8H621.1zM609.7 1177.8H621.1V1187.1H609.7zM324.3 1196.3H335.7V1205.6H324.3zM415.6 1196.3H427V1205.6H415.6zM552.6 1214.8H564V1224.1H552.6zM278.6 1233.3H290V1242.6H278.6zM335.7 1242.6H347.1V1251.8H335.7zM404.2 1242.6H415.6V1251.8H404.2zM621.1 1242.6H632.5V1251.8H621.1zM347.1 1261.1H358.5V1270.3H347.1zM529.8 1279.6H541.2V1288.8H529.8zM370 1325.8H381.4V1335.1H370zM586.9 1325.8H609.7V1335.1H586.9zM278.6 1335.1H290V1344.3H278.6zM370 1390.6H381.4V1399.8H370zM529.8 1390.6H541.2V1399.8H529.8zM666.8 1390.6H678.2V1399.8H666.8zM735.3 1390.6H746.7V1399.8H735.3zM427 1399.8H438.5V1409.1H427zM541.2 1399.8H552.6V1409.1H541.2zM678.2 1399.8H689.6V1409.1H678.2zM484.1 1427.6H495.5V1436.8H484.1zM541.2 1427.6H552.6V1436.8H541.2z"/>
<path fill="#2a93dc" d="M666.8 1011.3H678.2V1020.6H666.8zM655.4 1048.3H666.8V1057.6H655.4zM758.1 1066.8H769.5V1076.1H758.1zM666.8 1103.8H678.2V1113.1H666.8zM290 1122.3H301.5V1131.6H290zM210.1 1131.6H221.6V1140.8H210.1zM335.7 1131.6H347.1V1140.8H335.7zM632.5 1140.8H643.9V1150.1H632.5zM552.6 1150.1H564V1159.3H552.6zM198.7 1168.6H210.1V1177.8H198.7zM701 1177.8H712.4V1187.1H701zM666.8 1196.3H678.2V1205.6H666.8zM723.9 1196.3H735.3V1205.6H723.9zM575.4 1233.3H586.9V1242.6H575.4zM575.4 1242.6H586.9V1251.8H575.4zM689.6 1251.8H701V1261.1H689.6zM370 1261.1H381.4V1270.3H370zM244.4 1270.3H255.8V1279.6H244.4zM746.7 1288.8H758.1V1298.1H746.7zM267.2 1298.1H278.6V1307.3H267.2zM347.1 1298.1H358.5V1307.3H347.1zM621.1 1298.1H632.5V1307.3H621.1zM564 1325.8H575.4V1335.1H564zM370 1372.1H381.4V1381.3H370zM335.7 1390.6H347.1V1399.8H335.7zM712.4 1399.8H723.9V1409.1H712.4zM746.7 1409.1H758.1V1418.3H746.7zM564 1418.3H575.4V1427.6H564zM370 1436.8H381.4V1446.1H370z"/>
<path fill="#2a96e1" d="M678.2 1011.3H689.6V1020.6H678.2zM655.4 1039.1H666.8V1048.3H655.4zM552.6 1076.1H564V1085.3H552.6zM701 1076.1H712.4V1085.3H701zM735.3 1076.1H746.7V1085.3H735.3zM712.4 1085.3H723.9V1094.6H712.4zM655.4 1094.6H666.8V1103.8H655.4zM735.3 1094.6H746.7V1103.8H735.3zM438.5 1103.8H449.9V1113.1H438.5zM210.1 1113.1H221.6V1122.3H210.1zM552.6 1113.1H564V1122.3H552.6zM438.5 1122.3H449.9V1131.6H438.5zM461.3 1131.6H472.7V1140.8H461.3zM495.5 1131.6H507V1140.8H495.5zM324.3 1140.8H335.7V1150.1H324.3zM255.8 1168.6H267.2V1177.8H255.8zM301.5 1168.6H312.9V1177.8H301.5zM198.7 1224.1H210.1V1233.3H198.7zM621.1 1224.1H632.5V1233.3H621.1zM255.8 1242.6H267.2V1251.8H255.8zM723.9 1242.6H735.3V1251.8H723.9zM586.9 1261.1H598.3V1270.3H586.9zM701 1298.1H712.4V1307.3H701zM701 1307.3H712.4V1316.6H701zM324.3 1316.6H335.7V1325.8H324.3zM723.9 1316.6H735.3V1325.8H723.9zM746.7 1325.8H758.1V1335.1H746.7zM335.7 1335.1H347.1V1344.3H335.7zM324.3 1344.3H335.7V1353.6H324.3zM552.6 1344.3H564V1353.6H552.6zM746.7 1362.8H758.1V1372.1H746.7zM712.4 1390.6H723.9V1399.8H712.4zM312.9 1399.8H324.3V1409.1H312.9zM632.5 1399.8H643.9V1409.1H632.5zM666.8 1409.1H678.2V1418.3H666.8zM324.3 1418.3H335.7V1427.6H324.3zM404.2 1427.6H415.6V1436.8H404.2zM392.8 1446.1H404.2V1455.3H392.8z"/>
<path fill="#2e9fee" d="M712.4 1011.3H723.9V1020.6H712.4zM701 1020.6H712.4V1029.8H701zM472.7 1029.8H484.1V1039.1H472.7zM507 1048.3H518.4V1057.6H507zM438.5 1057.6H449.9V1066.8H438.5zM404.2 1076.1H415.6V1085.3H404.2zM598.3 1076.1H609.7V1085.3H598.3zM449.9 1085.3H461.3V1094.6H449.9zM370 1113.1H381.4V1122.3H370zM267.2 1140.8H278.6V1150.1H267.2zM666.8 1140.8H678.2V1150.1H666.8zM324.3 1168.6H335.7V1177.8H324.3zM609.7 1168.6H621.1V1177.8H609.7zM210.1 1177.8H221.6V1187.1H210.1zM495.5 1177.8H507V1187.1H495.5zM586.9 1177.8H598.3V1187.1H586.9zM233 1187.1H244.4V1196.3H233zM552.6 1196.3H564V1205.6H552.6zM621.1 1251.8H632.5V1261.1H621.1zM712.4 1251.8H723.9V1261.1H712.4zM449.9 1279.6H461.3V1288.8H449.9zM666.8 1279.6H678.2V1288.8H666.8zM404.2 1288.8H415.6V1298.1H404.2zM438.5 1298.1H449.9V1307.3H438.5zM278.6 1316.6H290V1325.8H278.6zM461.3 1316.6H472.7V1325.8H461.3zM484.1 1316.6H495.5V1325.8H484.1zM518.4 1344.3H529.8V1353.6H518.4zM632.5 1344.3H643.9V1353.6H632.5zM712.4 1344.3H723.9V1353.6H712.4zM415.6 1390.6H427V1399.8H415.6zM484.1 1399.8H495.5V1409.1H484.1zM449.9 1418.3H461.3V1427.6H449.9zM586.9 1418.3H598.3V1427.6H586.9z"/>
<path fill="#a1c4ef" d="M210.1 1020.6H221.6V1029.8H210.1zM198.7 1261.1H210.1V1270.3H198.7z"/>
<path fill="#82b8f3" d="M221.6 1020.6H233V1029.8H221.6zM746.7 1187.1H758.1V1196.3H746.7z"/>
<path fill="#7db7f3" d="M233 1020.6H244.4V1029.8H233zM758.1 1094.6H769.5V1103.8H758.1zM198.7 1103.8H210.1V1113.1H198.7zM198.7 1214.8H210.1V1224.1H198.7zM712.4 1436.8H723.9V1446.1H712.4zM244.4 1446.1H255.8V1455.3H244.4zM335.7 1446.1H347.1V1455.3H335.7zM712.4 1446.1H723.9V1455.3H712.4z"/>
<path fill="#86baf2" d="M301.5 1020.6H312.9V1029.8H301.5zM586.9 1270.3H598.3V1279.6H586.9zM221.6 1335.1H233V1344.3H221.6zM233 1399.8H244.4V1409.1H233z"/>
<path fill="#2b9be8" d="M449.9 1020.6H461.3V1029.8H449.9zM301.5 1057.6H312.9V1066.8H301.5zM609.7 1196.3H621.1V1205.6H609.7zM541.2 1279.6H552.6V1288.8H541.2z"/>
<path fill="#396d9c" d="M461.3 1020.6H472.7V1029.8H461.3zM643.9 1122.3H655.4V1131.6H643.9zM598.3 1233.3H609.7V1242.6H598.3zM267.2 1251.8H278.6V1261.1H267.2zM301.5 1270.3H312.9V1279.6H301.5zM404.2 1279.6H415.6V1288.8H404.2zM312.9 1288.8H324.3V1298.1H312.9zM427 1316.6H438.5V1325.8H427zM586.9 1390.6H598.3V1399.8H586.9zM415.6 1418.3H427V1427.6H415.6z"/>
<path fill="#3fa8f7" d="M552.6 1020.6H564V1029.8H552.6zM598.3 1020.6H609.7V1029.8H598.3zM689.6 1020.6H701V1029.8H689.6zM233 1039.1H244.4V1048.3H233zM301.5 1039.1H312.9V1048.3H301.5zM267.2 1103.8H278.6V1113.1H267.2zM312.9 1150.1H324.3V1159.3H312.9zM210.1 1159.3H221.6V1168.6H210.1zM198.7 1205.6H210.1V1214.8H198.7zM758.1 1261.1H769.5V1270.3H758.1zM198.7 1335.1H210.1V1344.3H198.7zM198.7 1362.8H210.1V1372.1H198.7zM666.8 1418.3H678.2V1427.6H666.8zM290 1427.6H301.5V1436.8H290zM312.9 1427.6H324.3V1436.8H312.9zM290 1436.8H301.5V1446.1H290zM507 1446.1H518.4V1455.3H507z"/>
<path fill="#2f84c4" d="M621.1 1020.6H632.5V1029.8H621.1zM495.5 1029.8H507V1039.1H495.5zM666.8 1029.8H678.2V1039.1H666.8zM746.7 1048.3H758.1V1057.6H746.7zM370 1085.3H381.4V1094.6H370zM529.8 1103.8H541.2V1113.1H529.8zM301.5 1131.6H312.9V1140.8H301.5zM564 1140.8H575.4V1150.1H564zM244.4 1159.3H255.8V1168.6H244.4zM267.2 1214.8H278.6V1224.1H267.2zM701 1224.1H712.4V1233.3H701zM233 1261.1H244.4V1270.3H233zM678.2 1325.8H689.6V1335.1H678.2zM689.6 1353.6H701V1362.8H689.6z"/>
<path fill="#3870a2" d="M632.5 1020.6H643.9V1029.8H632.5zM449.9 1029.8H461.3V1039.1H449.9zM564 1122.3H575.4V1131.6H564zM655.4 1159.3H666.8V1168.6H655.4zM404.2 1214.8H415.6V1224.1H404.2zM233 1233.3H244.4V1242.6H233zM723.9 1288.8H735.3V1298.1H723.9zM495.5 1316.6H507V1325.8H495.5zM735.3 1381.3H746.7V1390.6H735.3z"/>
<path fill="#3180bd" d="M735.3 1020.6H746.7V1029.8H735.3zM438.5 1029.8H449.9V1039.1H438.5zM655.4 1029.8H666.8V1039.1H655.4zM541.2 1039.1H552.6V1048.3H541.2zM484.1 1057.6H495.5V1066.8H484.1zM484.1 1066.8H495.5V1076.1H484.1zM324.3 1085.3H335.7V1094.6H324.3zM689.6 1103.8H701V1113.1H689.6zM290 1113.1H301.5V1122.3H290zM335.7 1150.1H347.1V1159.3H335.7zM461.3 1150.1H484.1V1159.3H461.3zM575.4 1159.3H586.9V1168.6H575.4zM632.5 1168.6H643.9V1177.8H632.5zM529.8 1177.8H541.2V1187.1H529.8zM507 1187.1H518.4V1196.3H507zM278.6 1196.3H290V1205.6H278.6zM370 1214.8H381.4V1224.1H370zM655.4 1224.1H666.8V1233.3H655.4zM198.7 1233.3H210.1V1242.6H198.7zM564 1233.3H575.4V1242.6H564zM210.1 1242.6H221.6V1251.8H210.1zM347.1 1279.6H358.5V1288.8H347.1zM461.3 1279.6H472.7V1288.8H461.3zM541.2 1288.8H552.6V1298.1H541.2zM552.6 1298.1H564V1307.3H552.6zM404.2 1307.3H415.6V1316.6H404.2zM518.4 1307.3H529.8V1316.6H518.4zM267.2 1335.1H278.6V1344.3H267.2zM586.9 1335.1H598.3V1344.3H586.9zM689.6 1344.3H701V1353.6H689.6zM301.5 1353.6H312.9V1362.8H301.5zM449.9 1372.1H461.3V1381.3H449.9zM541.2 1372.1H552.6V1381.3H541.2zM347.1 1381.3H358.5V1390.6H347.1zM552.6 1381.3H564V1390.6H552.6zM564 1390.6H575.4V1399.8H564zM643.9 1390.6H655.4V1399.8H643.9zM381.4 1399.8H392.8V1409.1H381.4zM643.9 1418.3H655.4V1427.6H643.9zM358.5 1427.6H370V1436.8H358.5zM427 1427.6H438.5V1436.8H427z"/>
<path fill="#4aaaf7" d="M233 1029.8H244.4V1039.1H233zM233 1159.3H244.4V1168.6H233zM735.3 1187.1H746.7V1196.3H735.3zM198.7 1298.1H210.1V1307.3H198.7zM758.1 1307.3H769.5V1316.6H758.1zM358.5 1409.1H370V1418.3H358.5z"/>
<path fill="#6cb2f5" d="M244.4 1029.8H255.8V1039.1H244.4zM244.4 1048.3H255.8V1057.6H244.4zM278.6 1076.1H290V1085.3H278.6zM518.4 1094.6H529.8V1103.8H518.4zM541.2 1113.1H552.6V1122.3H541.2zM723.9 1122.3H735.3V1131.6H723.9zM255.8 1224.1H267.2V1233.3H255.8zM712.4 1242.6H723.9V1251.8H712.4zM632.5 1409.1H643.9V1418.3H632.5zM449.9 1436.8H461.3V1446.1H449.9zM609.7 1436.8H621.1V1446.1H609.7z"/>
<path fill="#50abf7" d="M267.2 1029.8H278.6V1039.1H267.2zM221.6 1057.6H233V1066.8H221.6zM324.3 1279.6H335.7V1288.8H324.3zM472.7 1298.1H484.1V1307.3H472.7z"/>
<path fill="#87baf2" d="M278.6 1029.8H290V1039.1H278.6zM392.8 1039.1H404.2V1048.3H392.8zM324.3 1066.8H335.7V1076.1H324.3zM712.4 1298.1H723.9V1307.3H712.4zM221.6 1362.8H233V1372.1H221.6zM255.8 1381.3H267.2V1390.6H255.8z"/>
<path fill="#99c1f0" d="M324.3 1029.8H335.7V1039.1H324.3zM198.7 1270.3H210.1V1279.6H198.7zM210.1 1446.1H221.6V1455.3H210.1z"/>
<path fill="#2c9cea" d="M335.7 1029.8H347.1V1039.1H335.7zM244.4 1039.1H255.8V1048.3H244.4zM575.4 1094.6H586.9V1103.8H575.4zM529.8 1150.1H541.2V1159.3H529.8zM541.2 1168.6H552.6V1177.8H541.2zM301.5 1214.8H312.9V1224.1H301.5zM632.5 1233.3H643.9V1242.6H632.5zM210.1 1390.6H221.6V1399.8H210.1zM529.8 1418.3H541.2V1427.6H529.8zM312.9 1436.8H324.3V1446.1H312.9z"/>
<path fill="#94bff1" d="M358.5 1029.8H370V1039.1H358.5zM255.8 1039.1H267.2V1048.3H255.8zM221.6 1085.3H233V1094.6H221.6zM723.9 1233.3H735.3V1242.6H723.9zM347.1 1353.6H358.5V1362.8H347.1zM198.7 1409.1H210.1V1418.3H198.7zM758.1 1446.1H769.5V1455.3H758.1z"/>
<path fill="#2b8ed5" d="M381.4 1029.8H392.8V1039.1H381.4zM621.1 1029.8H632.5V1039.1H621.1zM586.9 1113.1H598.3V1122.3H586.9zM598.3 1122.3H609.7V1131.6H598.3zM381.4 1159.3H392.8V1168.6H381.4zM666.8 1159.3H678.2V1168.6H666.8zM621.1 1205.6H632.5V1214.8H621.1zM666.8 1233.3H678.2V1242.6H666.8zM381.4 1242.6H392.8V1251.8H381.4zM564 1242.6H575.4V1251.8H564zM267.2 1261.1H278.6V1270.3H267.2zM392.8 1279.6H404.2V1288.8H392.8zM575.4 1307.3H586.9V1316.6H575.4zM655.4 1307.3H666.8V1316.6H655.4zM723.9 1307.3H735.3V1316.6H723.9zM518.4 1399.8H529.8V1409.1H518.4z"/>
<path fill="#2c89cc" d="M392.8 1029.8H404.2V1039.1H392.8zM735.3 1335.1H746.7V1344.3H735.3zM255.8 1372.1H267.2V1381.3H255.8zM233 1427.6H244.4V1436.8H233z"/>
<path fill="#337bb4" d="M507 1029.8H518.4V1039.1H507zM472.7 1048.3H484.1V1057.6H472.7zM598.3 1168.6H609.7V1177.8H598.3zM335.7 1196.3H347.1V1205.6H335.7zM301.5 1233.3H312.9V1242.6H301.5zM495.5 1261.1H507V1270.3H495.5zM301.5 1279.6H312.9V1288.8H301.5zM632.5 1307.3H643.9V1316.6H632.5zM347.1 1316.6H358.5V1325.8H347.1zM655.4 1353.6H666.8V1362.8H655.4zM507 1399.8H518.4V1409.1H507zM518.4 1409.1H529.8V1418.3H518.4zM598.3 1409.1H609.7V1418.3H598.3z"/>
<path fill="#396f9f" d="M518.4 1029.8H529.8V1039.1H518.4zM518.4 1150.1H529.8V1159.3H518.4zM347.1 1177.8H358.5V1187.1H347.1zM564 1187.1H575.4V1196.3H564zM335.7 1261.1H347.1V1270.3H335.7zM586.9 1307.3H598.3V1316.6H586.9zM427 1381.3H438.5V1390.6H427zM335.7 1399.8H347.1V1409.1H335.7zM495.5 1427.6H507V1436.8H495.5z"/>
<path fill="#43a8f7" d="M552.6 1029.8H564V1039.1H552.6zM278.6 1057.6H290V1066.8H278.6zM358.5 1113.1H370V1122.3H358.5zM233 1140.8H244.4V1150.1H233zM712.4 1233.3H723.9V1242.6H712.4zM210.1 1261.1H221.6V1270.3H210.1zM746.7 1261.1H758.1V1270.3H746.7zM210.1 1270.3H221.6V1279.6H210.1zM712.4 1335.1H723.9V1344.3H712.4zM301.5 1381.3H312.9V1390.6H301.5zM210.1 1427.6H221.6V1436.8H210.1z"/>
<path fill="#64aff5" d="M564 1029.8H575.4V1039.1H564zM712.4 1048.3H723.9V1057.6H712.4zM552.6 1103.8H564V1113.1H552.6zM255.8 1159.3H267.2V1168.6H255.8zM312.9 1159.3H324.3V1168.6H312.9zM312.9 1187.1H324.3V1196.3H312.9zM564 1335.1H575.4V1344.3H564zM233 1436.8H244.4V1446.1H233z"/>
<path fill="#2fa1f0" d="M575.4 1029.8H586.9V1039.1H575.4zM632.5 1066.8H643.9V1076.1H632.5zM598.3 1085.3H609.7V1094.6H598.3zM678.2 1085.3H689.6V1094.6H678.2zM701 1085.3H712.4V1094.6H701zM712.4 1103.8H723.9V1113.1H712.4zM221.6 1122.3H233V1131.6H221.6zM324.3 1150.1H335.7V1159.3H324.3zM404.2 1159.3H415.6V1168.6H404.2zM758.1 1159.3H769.5V1168.6H758.1zM575.4 1177.8H586.9V1187.1H575.4zM392.8 1187.1H404.2V1196.3H392.8zM370 1196.3H381.4V1205.6H370zM575.4 1205.6H586.9V1214.8H575.4zM701 1233.3H712.4V1242.6H701zM586.9 1251.8H598.3V1261.1H586.9zM324.3 1261.1H335.7V1270.3H324.3zM392.8 1270.3H404.2V1279.6H392.8zM312.9 1298.1H324.3V1307.3H312.9zM392.8 1298.1H404.2V1307.3H392.8zM301.5 1316.6H312.9V1325.8H301.5zM290 1344.3H301.5V1353.6H290zM632.5 1353.6H643.9V1362.8H632.5zM712.4 1381.3H723.9V1390.6H712.4zM758.1 1390.6H769.5V1399.8H758.1zM290 1409.1H301.5V1418.3H290z"/>
<path fill="#3675a9" d="M735.3 1029.8H746.7V1039.1H735.3zM564 1150.1H575.4V1159.3H564zM415.6 1177.8H427V1187.1H415.6zM312.9 1233.3H324.3V1242.6H312.9zM415.6 1307.3H427V1316.6H415.6zM404.2 1335.1H415.6V1344.3H404.2zM666.8 1353.6H678.2V1362.8H666.8z"/>
<path fill="#2c8bcf" d="M347.1 1039.1H358.5V1048.3H347.1zM347.1 1187.1H358.5V1196.3H347.1zM278.6 1270.3H290V1279.6H278.6zM427 1307.3H438.5V1316.6H427z"/>
<path fill="#2e85c6" d="M381.4 1039.1H392.8V1048.3H381.4zM415.6 1076.1H427V1085.3H415.6zM495.5 1085.3H507V1094.6H495.5zM666.8 1085.3H678.2V1094.6H666.8zM255.8 1150.1H267.2V1159.3H255.8zM244.4 1168.6H255.8V1177.8H244.4zM221.6 1177.8H233V1187.1H221.6zM255.8 1187.1H267.2V1196.3H255.8zM678.2 1196.3H689.6V1205.6H678.2zM301.5 1205.6H312.9V1214.8H301.5zM678.2 1242.6H689.6V1251.8H678.2zM324.3 1270.3H335.7V1279.6H324.3zM370 1279.6H381.4V1288.8H370zM552.6 1307.3H564V1316.6H552.6zM712.4 1307.3H723.9V1316.6H712.4zM221.6 1316.6H233V1325.8H221.6zM701 1362.8H712.4V1372.1H701zM598.3 1418.3H609.7V1427.6H598.3zM632.5 1418.3H643.9V1427.6H632.5zM438.5 1436.8H449.9V1446.1H438.5z"/>
<path fill="#8dbcf1" d="M415.6 1039.1H427V1048.3H415.6zM267.2 1048.3H278.6V1057.6H267.2zM267.2 1066.8H278.6V1076.1H267.2zM324.3 1103.8H335.7V1113.1H324.3zM746.7 1251.8H758.1V1261.1H746.7zM244.4 1316.6H255.8V1325.8H244.4zM347.1 1362.8H358.5V1372.1H347.1z"/>
<path fill="#2d88ca" d="M427 1039.1H438.5V1048.3H427zM678.2 1048.3H689.6V1057.6H678.2zM723.9 1048.3H735.3V1057.6H723.9zM312.9 1131.6H324.3V1140.8H312.9zM723.9 1214.8H735.3V1224.1H723.9zM735.3 1270.3H746.7V1279.6H735.3zM210.1 1316.6H221.6V1325.8H210.1zM244.4 1344.3H255.8V1353.6H244.4zM392.8 1353.6H404.2V1362.8H392.8zM495.5 1390.6H507V1399.8H495.5z"/>
<path fill="#3a6c99" d="M449.9 1039.1H461.3V1048.3H449.9zM621.1 1187.1H632.5V1196.3H621.1zM358.5 1242.6H370V1251.8H358.5zM347.1 1251.8H358.5V1261.1H347.1zM552.6 1270.3H564V1279.6H552.6zM404.2 1344.3H415.6V1353.6H404.2zM643.9 1381.3H655.4V1390.6H643.9z"/>
<path fill="#3774a8" d="M472.7 1039.1H484.1V1048.3H472.7zM632.5 1039.1H643.9V1048.3H632.5zM438.5 1085.3H449.9V1094.6H438.5zM655.4 1113.1H666.8V1122.3H655.4zM427 1131.6H438.5V1140.8H427zM233 1177.8H244.4V1187.1H233zM233 1242.6H244.4V1251.8H233zM221.6 1251.8H233V1261.1H221.6zM678.2 1279.6H689.6V1288.8H678.2zM598.3 1288.8H609.7V1298.1H598.3zM255.8 1316.6H267.2V1325.8H255.8zM529.8 1344.3H541.2V1353.6H529.8zM415.6 1353.6H427V1362.8H415.6zM370 1409.1H381.4V1418.3H370z"/>
<path fill="#3870a1" d="M529.8 1039.1H541.2V1048.3H529.8zM689.6 1094.6H701V1103.8H689.6zM404.2 1131.6H415.6V1140.8H404.2zM632.5 1159.3H643.9V1168.6H632.5zM290 1168.6H301.5V1177.8H290zM598.3 1261.1H609.7V1270.3H598.3zM347.1 1325.8H358.5V1335.1H347.1zM404.2 1353.6H415.6V1362.8H404.2zM643.9 1353.6H655.4V1362.8H643.9zM438.5 1381.3H449.9V1390.6H438.5zM678.2 1381.3H689.6V1390.6H678.2z"/>
<path fill="#81b8f3" d="M758.1 1039.1H769.5V1048.3H758.1zM552.6 1048.3H564V1057.6H552.6zM689.6 1362.8H701V1372.1H689.6zM233 1381.3H244.4V1390.6H233zM210.1 1399.8H221.6V1409.1H210.1zM198.7 1418.3H210.1V1427.6H198.7zM609.7 1446.1H621.1V1455.3H609.7z"/>
<path fill="#9ac1f0" d="M198.7 1048.3H210.1V1057.6H198.7zM233 1390.6H244.4V1399.8H233zM278.6 1436.8H290V1446.1H278.6zM632.5 1446.1H643.9V1455.3H632.5z"/>
<path fill="#8ebdf1" d="M221.6 1048.3H233V1057.6H221.6zM735.3 1177.8H746.7V1187.1H735.3zM312.9 1251.8H324.3V1261.1H312.9zM244.4 1362.8H255.8V1372.1H244.4zM723.9 1418.3H735.3V1427.6H723.9z"/>
<path fill="#79b5f4" d="M335.7 1048.3H347.1V1057.6H335.7zM221.6 1159.3H233V1168.6H221.6zM746.7 1298.1H758.1V1307.3H746.7zM267.2 1399.8H278.6V1409.1H267.2zM370 1446.1H381.4V1455.3H370zM621.1 1446.1H632.5V1455.3H621.1zM678.2 1446.1H689.6V1455.3H678.2z"/>
<path fill="#327eba" d="M598.3 1048.3H609.7V1057.6H598.3zM586.9 1131.6H598.3V1140.8H586.9zM335.7 1140.8H347.1V1150.1H335.7zM370 1187.1H381.4V1196.3H370zM267.2 1196.3H278.6V1205.6H267.2zM598.3 1196.3H609.7V1205.6H598.3zM598.3 1205.6H609.7V1214.8H598.3zM335.7 1224.1H347.1V1233.3H335.7zM678.2 1233.3H689.6V1242.6H678.2zM609.7 1251.8H621.1V1261.1H609.7zM609.7 1261.1H632.5V1270.3H609.7zM507 1307.3H518.4V1316.6H507zM598.3 1307.3H609.7V1316.6H598.3zM621.1 1325.8H643.9V1335.1H621.1zM632.5 1335.1H643.9V1344.3H632.5zM655.4 1344.3H666.8V1353.6H655.4zM392.8 1362.8H404.2V1372.1H392.8zM461.3 1372.1H472.7V1381.3H461.3zM609.7 1372.1H621.1V1381.3H609.7zM495.5 1399.8H507V1409.1H495.5zM552.6 1418.3H564V1427.6H552.6z"/>
<path fill="#5faef6" d="M666.8 1048.3H678.2V1057.6H666.8zM495.5 1057.6H507V1066.8H495.5zM392.8 1066.8H404.2V1076.1H392.8zM495.5 1076.1H507V1085.3H495.5zM324.3 1094.6H335.7V1103.8H324.3zM358.5 1298.1H370V1307.3H358.5zM575.4 1335.1H586.9V1344.3H575.4zM746.7 1381.3H758.1V1390.6H746.7zM746.7 1427.6H758.1V1436.8H746.7z"/>
<path fill="#9dc2f0" d="M210.1 1057.6H221.6V1066.8H210.1zM198.7 1251.8H210.1V1261.1H198.7zM198.7 1307.3H210.1V1316.6H198.7zM723.9 1446.1H735.3V1455.3H723.9z"/>
<path fill="#90bef1" d="M233 1057.6H244.4V1066.8H233zM324.3 1436.8H335.7V1446.1H324.3zM415.6 1446.1H427V1455.3H415.6zM586.9 1446.1H598.3V1455.3H586.9z"/>
<path fill="#33a5f5" d="M358.5 1057.6H370V1066.8H358.5zM529.8 1085.3H541.2V1094.6H529.8zM701 1094.6H712.4V1103.8H701zM347.1 1113.1H358.5V1122.3H347.1zM495.5 1122.3H507V1131.6H495.5zM575.4 1131.6H586.9V1140.8H575.4zM392.8 1150.1H404.2V1159.3H392.8zM689.6 1177.8H701V1187.1H689.6zM301.5 1307.3H312.9V1316.6H301.5zM678.2 1335.1H689.6V1344.3H678.2zM267.2 1372.1H278.6V1381.3H267.2zM723.9 1399.8H735.3V1409.1H723.9zM244.4 1436.8H255.8V1446.1H244.4z"/>
<path fill="#2d88cb" d="M552.6 1057.6H564V1066.8H552.6zM723.9 1103.8H735.3V1113.1H723.9zM233 1122.3H244.4V1131.6H233zM244.4 1131.6H255.8V1140.8H244.4zM746.7 1177.8H758.1V1187.1H746.7zM221.6 1214.8H233V1224.1H221.6zM701 1242.6H712.4V1251.8H701zM632.5 1270.3H643.9V1279.6H632.5zM278.6 1381.3H290V1390.6H278.6zM598.3 1436.8H609.7V1446.1H598.3z"/>
<path fill="#3080be" d="M586.9 1057.6H598.3V1066.8H586.9zM735.3 1066.8H746.7V1076.1H735.3zM575.4 1076.1H586.9V1085.3H575.4zM586.9 1094.6H598.3V1103.8H586.9zM621.1 1103.8H632.5V1113.1H621.1zM712.4 1122.3H723.9V1131.6H712.4zM746.7 1122.3H758.1V1131.6H746.7zM278.6 1159.3H290V1168.6H278.6zM529.8 1159.3H541.2V1168.6H529.8zM472.7 1168.6H484.1V1177.8H472.7zM267.2 1177.8H278.6V1187.1H267.2zM312.9 1177.8H324.3V1187.1H312.9zM438.5 1177.8H449.9V1187.1H438.5zM335.7 1187.1H347.1V1196.3H335.7zM541.2 1187.1H552.6V1196.3H541.2zM632.5 1196.3H643.9V1205.6H632.5zM244.4 1214.8H255.8V1224.1H244.4zM575.4 1214.8H586.9V1224.1H575.4zM312.9 1224.1H324.3V1233.3H312.9zM210.1 1233.3H221.6V1242.6H210.1zM324.3 1288.8H335.7V1298.1H324.3zM621.1 1307.3H632.5V1316.6H621.1zM449.9 1390.6H461.3V1399.8H449.9z"/>
<path fill="#337cb6" d="M598.3 1057.6H609.7V1066.8H598.3zM598.3 1131.6H609.7V1140.8H598.3zM484.1 1177.8H495.5V1187.1H484.1zM404.2 1187.1H415.6V1196.3H404.2zM415.6 1205.6H427V1214.8H415.6zM586.9 1214.8H598.3V1224.1H586.9zM495.5 1325.8H507V1335.1H495.5zM472.7 1335.1H484.1V1344.3H472.7z"/>
<path fill="#97c0f0" d="M233 1066.8H244.4V1076.1H233zM233 1446.1H244.4V1455.3H233zM404.2 1446.1H415.6V1455.3H404.2z"/>
<path fill="#2a98e4" d="M255.8 1066.8H267.2V1076.1H255.8zM461.3 1066.8H472.7V1076.1H461.3zM541.2 1103.8H552.6V1113.1H541.2zM712.4 1159.3H723.9V1168.6H712.4zM233 1279.6H244.4V1288.8H233zM244.4 1353.6H255.8V1362.8H244.4zM712.4 1372.1H723.9V1381.3H712.4zM267.2 1381.3H278.6V1390.6H267.2zM278.6 1399.8H290V1409.1H278.6zM358.5 1436.8H370V1446.1H358.5z"/>
<path fill="#4caaf7" d="M312.9 1066.8H324.3V1076.1H312.9zM415.6 1316.6H427V1325.8H415.6zM746.7 1344.3H758.1V1353.6H746.7zM427 1372.1H438.5V1381.3H427z"/>
<path fill="#2d87c9" d="M335.7 1066.8H347.1V1076.1H335.7zM370 1122.3H381.4V1131.6H370zM221.6 1131.6H233V1140.8H221.6zM381.4 1196.3H392.8V1205.6H381.4zM507 1196.3H518.4V1205.6H507zM746.7 1196.3H758.1V1205.6H746.7zM723.9 1224.1H735.3V1233.3H723.9zM655.4 1270.3H666.8V1279.6H655.4zM564 1288.8H575.4V1298.1H564zM233 1335.1H244.4V1344.3H233zM347.1 1372.1H358.5V1381.3H347.1z"/>
<path fill="#2c9be9" d="M267.2 1076.1H278.6V1085.3H267.2zM564 1251.8H575.4V1261.1H564zM643.9 1325.8H655.4V1335.1H643.9zM267.2 1418.3H278.6V1427.6H267.2z"/>
<path fill="#5aadf6" d="M655.4 1076.1H666.8V1085.3H655.4zM278.6 1242.6H290V1251.8H278.6zM564 1279.6H575.4V1288.8H564zM643.9 1372.1H655.4V1381.3H643.9zM689.6 1381.3H701V1390.6H689.6zM347.1 1390.6H358.5V1399.8H347.1z"/>
<path fill="#2b8dd4" d="M723.9 1076.1H735.3V1085.3H723.9zM255.8 1177.8H267.2V1187.1H255.8zM518.4 1288.8H529.8V1298.1H518.4zM529.8 1325.8H541.2V1335.1H529.8zM438.5 1372.1H449.9V1381.3H438.5zM575.4 1381.3H586.9V1390.6H575.4zM427 1390.6H438.5V1399.8H427z"/>
<path fill="#9cc2f0" d="M198.7 1085.3H210.1V1094.6H198.7zM221.6 1390.6H233V1399.8H221.6z"/>
<path fill="#2c89cd" d="M244.4 1085.3H255.8V1094.6H244.4zM472.7 1177.8H484.1V1187.1H472.7zM632.5 1214.8H643.9V1224.1H632.5zM598.3 1242.6H609.7V1251.8H598.3zM495.5 1307.3H507V1316.6H495.5zM484.1 1335.1H495.5V1344.3H484.1zM758.1 1381.3H769.5V1390.6H758.1z"/>
<path fill="#5daef6" d="M461.3 1085.3H472.7V1094.6H461.3zM735.3 1085.3H746.7V1094.6H735.3zM484.1 1131.6H495.5V1140.8H484.1zM689.6 1214.8H701V1224.1H689.6zM689.6 1307.3H701V1316.6H689.6zM621.1 1344.3H632.5V1353.6H621.1zM267.2 1390.6H278.6V1399.8H267.2z"/>
<path fill="#61aff6" d="M552.6 1085.3H564V1094.6H552.6zM495.5 1113.1H507V1122.3H495.5zM381.4 1122.3H392.8V1131.6H381.4zM449.9 1131.6H461.3V1140.8H449.9zM221.6 1233.3H233V1242.6H221.6zM723.9 1279.6H735.3V1288.8H723.9zM564 1353.6H575.4V1362.8H564zM621.1 1390.6H632.5V1399.8H621.1z"/>
<path fill="#3871a2" d="M723.9 1085.3H735.3V1094.6H723.9zM301.5 1288.8H312.9V1298.1H301.5zM392.8 1288.8H404.2V1298.1H392.8z"/>
<path fill="#3676ab" d="M746.7 1085.3H758.1V1094.6H746.7zM609.7 1113.1H621.1V1122.3H609.7zM655.4 1187.1H666.8V1196.3H655.4zM449.9 1344.3H461.3V1353.6H449.9zM449.9 1362.8H461.3V1372.1H449.9zM701 1381.3H712.4V1390.6H701z"/>
<path fill="#a2c4ef" d="M198.7 1094.6H210.1V1103.8H198.7z"/>
<path fill="#58adf6" d="M210.1 1094.6H221.6V1103.8H210.1zM689.6 1196.3H701V1205.6H689.6zM335.7 1325.8H347.1V1335.1H335.7z"/>
<path fill="#41a8f7" d="M233 1094.6H244.4V1103.8H233zM198.7 1131.6H210.1V1140.8H198.7zM758.1 1224.1H769.5V1233.3H758.1zM746.7 1316.6H758.1V1325.8H746.7zM758.1 1335.1H769.5V1344.3H758.1zM290 1362.8H301.5V1372.1H290zM210.1 1409.1H221.6V1418.3H210.1zM678.2 1436.8H689.6V1446.1H678.2zM449.9 1446.1H461.3V1455.3H449.9zM564 1446.1H575.4V1455.3H564zM598.3 1446.1H609.7V1455.3H598.3z"/>
<path fill="#92bef1" d="M267.2 1094.6H278.6V1103.8H267.2zM198.7 1140.8H210.1V1150.1H198.7zM233 1150.1H244.4V1159.3H233zM198.7 1187.1H210.1V1196.3H198.7zM735.3 1233.3H746.7V1242.6H735.3zM233 1316.6H244.4V1325.8H233zM746.7 1353.6H758.1V1362.8H746.7zM723.9 1372.1H735.3V1381.3H723.9zM210.1 1436.8H221.6V1446.1H210.1zM221.6 1446.1H233V1455.3H221.6z"/>
<path fill="#3a6c9a" d="M392.8 1094.6H404.2V1103.8H392.8zM392.8 1103.8H404.2V1113.1H392.8zM598.3 1140.8H609.7V1150.1H598.3zM370 1177.8H381.4V1187.1H370zM347.1 1205.6H358.5V1214.8H347.1zM598.3 1214.8H609.7V1224.1H598.3zM552.6 1242.6H564V1251.8H552.6zM655.4 1251.8H666.8V1261.1H655.4z"/>
<path fill="#56acf6" d="M541.2 1094.6H552.6V1103.8H541.2zM609.7 1103.8H621.1V1113.1H609.7zM233 1362.8H244.4V1372.1H233zM701 1399.8H712.4V1409.1H701zM312.9 1418.3H324.3V1427.6H312.9z"/>
<path fill="#3675aa" d="M564 1094.6H575.4V1103.8H564zM507 1122.3H518.4V1131.6H507zM666.8 1131.6H678.2V1140.8H666.8zM746.7 1131.6H758.1V1140.8H746.7zM312.9 1168.6H324.3V1177.8H312.9zM244.4 1288.8H255.8V1298.1H244.4zM655.4 1436.8H666.8V1446.1H655.4z"/>
<path fill="#3b6a96" d="M381.4 1103.8H392.8V1113.1H381.4zM598.3 1150.1H609.7V1159.3H598.3zM461.3 1196.3H472.7V1205.6H461.3zM655.4 1261.1H666.8V1270.3H655.4zM655.4 1298.1H666.8V1307.3H655.4zM632.5 1316.6H643.9V1325.8H632.5zM449.9 1325.8H461.3V1335.1H449.9zM655.4 1381.3H666.8V1390.6H655.4z"/>
<path fill="#54acf6" d="M484.1 1103.8H495.5V1113.1H484.1zM233 1224.1H244.4V1233.3H233zM244.4 1298.1H255.8V1307.3H244.4zM758.1 1353.6H769.5V1362.8H758.1z"/>
<path fill="#396e9e" d="M586.9 1103.8H598.3V1113.1H586.9zM518.4 1159.3H529.8V1168.6H518.4zM655.4 1205.6H666.8V1214.8H655.4zM529.8 1214.8H541.2V1224.1H529.8zM541.2 1233.3H552.6V1242.6H541.2zM552.6 1251.8H564V1261.1H552.6zM507 1335.1H518.4V1344.3H507zM666.8 1381.3H678.2V1390.6H666.8z"/>
<path fill="#3d6083" d="M678.2 1103.8H689.6V1113.1H678.2zM461.3 1399.8H472.7V1409.1H461.3z"/>
<path fill="#9ec3f0" d="M758.1 1103.8H769.5V1113.1H758.1zM198.7 1399.8H210.1V1409.1H198.7zM221.6 1399.8H233V1409.1H221.6z"/>
<path fill="#3773a6" d="M381.4 1113.1H392.8V1122.3H381.4zM746.7 1113.1H758.1V1122.3H746.7zM632.5 1122.3H643.9V1131.6H632.5zM484.1 1140.8H495.5V1150.1H484.1zM507 1177.8H518.4V1187.1H507zM575.4 1187.1H586.9V1196.3H575.4zM381.4 1251.8H392.8V1261.1H381.4z"/>
<path fill="#52abf6" d="M689.6 1113.1H701V1122.3H689.6zM358.5 1261.1H370V1270.3H358.5zM632.5 1427.6H643.9V1436.8H632.5z"/>
<path fill="#337bb5" d="M461.3 1122.3H472.7V1131.6H461.3zM586.9 1159.3H598.3V1168.6H586.9zM518.4 1177.8H529.8V1187.1H518.4zM358.5 1187.1H370V1196.3H358.5zM518.4 1187.1H529.8V1196.3H518.4zM415.6 1214.8H427V1224.1H415.6zM552.6 1261.1H564V1270.3H552.6zM347.1 1288.8H358.5V1298.1H347.1zM233 1298.1H244.4V1307.3H233zM518.4 1316.6H529.8V1325.8H518.4zM472.7 1325.8H484.1V1335.1H472.7zM701 1353.6H712.4V1362.8H701zM541.2 1362.8H552.6V1372.1H541.2zM472.7 1381.3H484.1V1390.6H472.7z"/>
<path fill="#3d5f82" d="M472.7 1122.3H484.1V1131.6H472.7zM621.1 1214.8H632.5V1224.1H621.1zM290 1233.3H301.5V1242.6H290zM438.5 1399.8H449.9V1409.1H438.5z"/>
<path fill="#2c9deb" d="M666.8 1122.3H678.2V1131.6H666.8zM678.2 1353.6H689.6V1362.8H678.2zM472.7 1418.3H484.1V1427.6H472.7z"/>
<path fill="#2b8cd2" d="M701 1122.3H712.4V1131.6H701zM541.2 1140.8H552.6V1150.1H541.2zM678.2 1205.6H689.6V1214.8H678.2zM655.4 1214.8H666.8V1224.1H655.4zM609.7 1288.8H621.1V1298.1H609.7zM461.3 1409.1H472.7V1418.3H461.3zM518.4 1427.6H529.8V1436.8H518.4z"/>
<path fill="#5badf6" d="M324.3 1131.6H335.7V1140.8H324.3zM564 1298.1H575.4V1307.3H564zM541.2 1307.3H552.6V1316.6H541.2zM335.7 1372.1H347.1V1381.3H335.7z"/>
<path fill="#3d5f81" d="M609.7 1131.6H621.1V1140.8H609.7zM381.4 1261.1H392.8V1270.3H381.4zM347.1 1270.3H358.5V1279.6H347.1z"/>
<path fill="#84b9f2" d="M221.6 1140.8H233V1150.1H221.6zM678.2 1288.8H689.6V1298.1H678.2z"/>
<path fill="#396e9d" d="M495.5 1140.8H507V1150.1H495.5zM655.4 1140.8H666.8V1150.1H655.4zM609.7 1187.1H621.1V1196.3H609.7zM701 1187.1H712.4V1196.3H701zM278.6 1251.8H290V1261.1H278.6zM507 1316.6H518.4V1325.8H507zM564 1372.1H575.4V1381.3H564zM701 1409.1H712.4V1418.3H701zM529.8 1427.6H541.2V1436.8H529.8z"/>
<path fill="#3a6d9b" d="M586.9 1140.8H598.3V1150.1H586.9zM666.8 1205.6H678.2V1214.8H666.8zM381.4 1224.1H392.8V1233.3H381.4zM552.6 1224.1H564V1233.3H552.6zM666.8 1261.1H678.2V1270.3H666.8zM529.8 1270.3H541.2V1279.6H529.8zM643.9 1344.3H655.4V1353.6H643.9zM381.4 1362.8H392.8V1372.1H381.4z"/>
<path fill="#2b9ae7" d="M221.6 1150.1H233V1159.3H221.6zM712.4 1325.8H723.9V1335.1H712.4zM301.5 1436.8H312.9V1446.1H301.5z"/>
<path fill="#2b8dd3" d="M438.5 1150.1H449.9V1159.3H438.5zM335.7 1205.6H347.1V1214.8H335.7zM335.7 1270.3H347.1V1279.6H335.7zM438.5 1316.6H449.9V1325.8H438.5zM301.5 1335.1H312.9V1344.3H301.5zM358.5 1335.1H370V1344.3H358.5zM358.5 1390.6H370V1399.8H358.5z"/>
<path fill="#3a6b98" d="M507 1150.1H518.4V1159.3H507zM358.5 1177.8H370V1187.1H358.5zM529.8 1196.3H552.6V1205.6H529.8zM415.6 1251.8H427V1261.1H415.6zM621.1 1362.8H632.5V1372.1H621.1z"/>
<path fill="#2d9eec" d="M643.9 1150.1H655.4V1159.3H643.9zM427 1159.3H438.5V1168.6H427zM392.8 1214.8H404.2V1224.1H392.8zM267.2 1224.1H278.6V1233.3H267.2zM290 1224.1H301.5V1233.3H290zM701 1261.1H712.4V1270.3H701zM267.2 1279.6H278.6V1288.8H267.2zM598.3 1372.1H609.7V1381.3H598.3zM427 1436.8H438.5V1446.1H427z"/>
<path fill="#3772a5" d="M461.3 1159.3H472.7V1168.6H461.3zM278.6 1205.6H290V1214.8H278.6zM609.7 1205.6H621.1V1214.8H609.7zM301.5 1224.1H312.9V1233.3H301.5zM392.8 1399.8H404.2V1409.1H392.8zM495.5 1409.1H507V1418.3H495.5zM381.4 1418.3H392.8V1427.6H381.4z"/>
<path fill="#3d5b7b" d="M507 1159.3H518.4V1168.6H507zM518.4 1196.3H529.8V1205.6H518.4zM404.2 1205.6H415.6V1214.8H404.2zM529.8 1224.1H541.2V1233.3H529.8zM472.7 1261.1H484.1V1270.3H472.7zM632.5 1261.1H643.9V1270.3H632.5zM621.1 1270.3H632.5V1279.6H621.1zM381.4 1325.8H392.8V1335.1H381.4zM438.5 1362.8H449.9V1372.1H438.5zM586.9 1362.8H598.3V1372.1H586.9zM518.4 1390.6H529.8V1399.8H518.4z"/>
<path fill="#3d5a79" d="M598.3 1159.3H609.7V1168.6H598.3zM438.5 1168.6H461.3V1177.8H438.5zM358.5 1205.6H370V1214.8H358.5zM438.5 1251.8H449.9V1261.1H438.5zM290 1270.3H301.5V1279.6H290zM518.4 1279.6H529.8V1288.8H518.4zM427 1325.8H438.5V1335.1H427zM449.9 1335.1H461.3V1344.3H449.9zM415.6 1344.3H427V1353.6H415.6zM438.5 1344.3H449.9V1353.6H438.5zM495.5 1344.3H507V1353.6H495.5zM415.6 1362.8H427V1372.1H415.6zM598.3 1362.8H609.7V1372.1H598.3z"/>
<path fill="#3a6b97" d="M609.7 1159.3H621.1V1168.6H609.7zM518.4 1205.6H529.8V1214.8H518.4zM347.1 1224.1H358.5V1233.3H347.1zM301.5 1261.1H312.9V1270.3H301.5zM643.9 1288.8H655.4V1298.1H643.9zM621.1 1316.6H632.5V1325.8H621.1zM427 1362.8H438.5V1372.1H427zM575.4 1372.1H586.9V1381.3H575.4z"/>
<path fill="#2b8cd1" d="M507 1168.6H518.4V1177.8H507zM438.5 1187.1H449.9V1196.3H438.5zM427 1335.1H438.5V1344.3H427zM598.3 1344.3H609.7V1353.6H598.3zM255.8 1390.6H267.2V1399.8H255.8z"/>
<path fill="#3c658c" d="M552.6 1168.6H564V1177.8H552.6zM461.3 1205.6H472.7V1214.8H461.3zM529.8 1233.3H541.2V1242.6H529.8zM643.9 1261.1H655.4V1270.3H643.9z"/>
<path fill="#3d5672" d="M449.9 1177.8H461.3V1187.1H449.9zM449.9 1205.6H461.3V1214.8H449.9zM507 1214.8H518.4V1224.1H507zM449.9 1233.3H461.3V1242.6H449.9zM518.4 1233.3H529.8V1242.6H518.4zM461.3 1242.6H472.7V1251.8H461.3zM449.9 1251.8H461.3V1261.1H449.9zM495.5 1251.8H507V1261.1H495.5zM495.5 1270.3H507V1279.6H495.5zM472.7 1362.8H484.1V1372.1H472.7z"/>
<path fill="#3d5b7a" d="M461.3 1177.8H472.7V1187.1H461.3zM358.5 1196.3H370V1205.6H358.5zM427 1214.8H438.5V1224.1H427zM415.6 1242.6H427V1251.8H415.6zM609.7 1279.6H621.1V1288.8H609.7zM415.6 1335.1H427V1344.3H415.6zM427 1353.6H438.5V1362.8H427zM415.6 1372.1H427V1381.3H415.6z"/>
<path fill="#3d5d7f" d="M598.3 1177.8H609.7V1187.1H598.3zM621.1 1177.8H632.5V1187.1H621.1zM518.4 1261.1H529.8V1270.3H518.4zM335.7 1288.8H347.1V1298.1H335.7z"/>
<path fill="#8abbf2" d="M758.1 1177.8H769.5V1187.1H758.1zM723.9 1335.1H735.3V1344.3H723.9z"/>
<path fill="#3c6288" d="M210.1 1187.1H221.6V1196.3H210.1zM484.1 1224.1H495.5V1233.3H484.1z"/>
<path fill="#3871a3" d="M324.3 1187.1H335.7V1196.3H324.3zM210.1 1196.3H221.6V1205.6H210.1zM723.9 1251.8H735.3V1261.1H723.9zM415.6 1279.6H427V1288.8H415.6zM358.5 1344.3H370V1353.6H358.5z"/>
<path fill="#3d5875" d="M449.9 1187.1H461.3V1196.3H449.9zM438.5 1196.3H449.9V1205.6H438.5zM495.5 1196.3H507V1205.6H495.5zM507 1205.6H518.4V1214.8H507zM438.5 1224.1H449.9V1233.3H438.5zM609.7 1270.3H621.1V1279.6H609.7zM438.5 1325.8H449.9V1335.1H438.5zM507 1353.6H518.4V1362.8H507zM461.3 1362.8H472.7V1372.1H461.3zM484.1 1381.3H507V1390.6H484.1z"/>
<path fill="#3d5774" d="M461.3 1187.1H472.7V1196.3H461.3zM472.7 1196.3H484.1V1205.6H472.7zM347.1 1233.3H358.5V1242.6H347.1zM518.4 1242.6H529.8V1251.8H518.4zM461.3 1251.8H472.7V1261.1H461.3zM507 1270.3H518.4V1279.6H507zM438.5 1335.1H449.9V1344.3H438.5zM472.7 1344.3H484.1V1353.6H472.7zM518.4 1372.1H529.8V1381.3H518.4z"/>
<path fill="#3578b0" d="M472.7 1187.1H484.1V1196.3H472.7zM415.6 1233.3H427V1242.6H415.6zM461.3 1436.8H472.7V1446.1H461.3z"/>
<path fill="#3d5976" d="M484.1 1187.1H495.5V1196.3H484.1zM347.1 1242.6H358.5V1251.8H347.1z"/>
<path fill="#3b6892" d="M495.5 1187.1H507V1196.3H495.5zM643.9 1251.8H655.4V1261.1H643.9zM370 1353.6H381.4V1362.8H370zM609.7 1362.8H621.1V1372.1H609.7zM472.7 1372.1H484.1V1381.3H472.7z"/>
<path fill="#3a6d9c" d="M598.3 1187.1H609.7V1196.3H598.3zM381.4 1214.8H392.8V1224.1H381.4zM552.6 1233.3H564V1242.6H552.6zM586.9 1233.3H598.3V1242.6H586.9zM278.6 1288.8H290V1298.1H278.6zM507 1288.8H518.4V1298.1H507zM529.8 1381.3H541.2V1390.6H529.8z"/>
<path fill="#3b6893" d="M347.1 1196.3H358.5V1205.6H347.1zM449.9 1196.3H461.3V1205.6H449.9zM518.4 1224.1H529.8V1233.3H518.4zM438.5 1242.6H449.9V1251.8H438.5zM609.7 1353.6H621.1V1362.8H609.7zM518.4 1381.3H529.8V1390.6H518.4z"/>
<path fill="#3d5c7c" d="M404.2 1196.3H415.6V1205.6H404.2zM609.7 1224.1H621.1V1233.3H609.7zM427 1233.3H438.5V1242.6H427zM495.5 1298.1H507V1307.3H495.5zM518.4 1353.6H529.8V1362.8H518.4zM529.8 1362.8H541.2V1372.1H529.8z"/>
<path fill="#3d5b79" d="M427 1196.3H438.5V1205.6H427zM358.5 1233.3H370V1242.6H358.5zM541.2 1242.6H552.6V1251.8H541.2zM370 1335.1H381.4V1344.3H370z"/>
<path fill="#3d546e" d="M484.1 1196.3H495.5V1205.6H484.1zM484.1 1205.6H507V1214.8H484.1zM438.5 1214.8H461.3V1224.1H438.5zM472.7 1214.8H484.1V1224.1H472.7zM495.5 1214.8H507V1224.1H495.5zM449.9 1224.1H472.7V1233.3H449.9zM461.3 1233.3H484.1V1242.6H461.3zM495.5 1233.3H507V1242.6H495.5zM472.7 1242.6H518.4V1251.8H472.7zM472.7 1251.8H484.1V1261.1H472.7zM495.5 1353.6H507V1362.8H495.5zM484.1 1362.8H529.8V1372.1H484.1zM495.5 1372.1H507V1381.3H495.5z"/>
<path fill="#3c648b" d="M427 1205.6H438.5V1214.8H427z"/>
<path fill="#3d5570" d="M438.5 1205.6H449.9V1214.8H438.5zM472.7 1205.6H484.1V1214.8H472.7zM461.3 1214.8H472.7V1224.1H461.3zM484.1 1214.8H495.5V1224.1H484.1zM472.7 1224.1H484.1V1233.3H472.7zM438.5 1233.3H449.9V1242.6H438.5zM484.1 1233.3H495.5V1242.6H484.1zM507 1233.3H518.4V1242.6H507zM529.8 1242.6H541.2V1251.8H529.8zM484.1 1251.8H495.5V1261.1H484.1zM507 1279.6H518.4V1288.8H507zM381.4 1335.1H392.8V1344.3H381.4zM461.3 1353.6H472.7V1362.8H461.3zM484.1 1353.6H495.5V1362.8H484.1zM484.1 1372.1H495.5V1381.3H484.1z"/>
<path fill="#3479b2" d="M529.8 1205.6H541.2V1214.8H529.8zM449.9 1242.6H461.3V1251.8H449.9zM643.9 1307.3H655.4V1316.6H643.9zM415.6 1325.8H427V1335.1H415.6z"/>
<path fill="#8cbcf2" d="M746.7 1205.6H758.1V1214.8H746.7zM210.1 1298.1H221.6V1307.3H210.1z"/>
<path fill="#3d5a78" d="M347.1 1214.8H358.5V1224.1H347.1z"/>
<path fill="#3c668e" d="M358.5 1214.8H370V1224.1H358.5zM484.1 1261.1H495.5V1270.3H484.1z"/>
<path fill="#3b6790" d="M518.4 1214.8H529.8V1224.1H518.4zM507 1224.1H518.4V1233.3H507zM370 1344.3H381.4V1353.6H370z"/>
<path fill="#3b6995" d="M609.7 1214.8H621.1V1224.1H609.7zM507 1381.3H518.4V1390.6H507z"/>
<path fill="#3b6994" d="M358.5 1224.1H370V1233.3H358.5zM643.9 1298.1H655.4V1307.3H643.9zM392.8 1335.1H404.2V1344.3H392.8zM598.3 1353.6H609.7V1362.8H598.3z"/>
<path fill="#2c8bd0" d="M370 1224.1H381.4V1233.3H370zM632.5 1298.1H643.9V1307.3H632.5zM541.2 1390.6H552.6V1399.8H541.2z"/>
<path fill="#3d6084" d="M415.6 1224.1H427V1233.3H415.6zM301.5 1251.8H312.9V1261.1H301.5zM723.9 1261.1H735.3V1270.3H723.9zM655.4 1279.6H666.8V1288.8H655.4zM438.5 1288.8H449.9V1298.1H438.5zM541.2 1418.3H552.6V1427.6H541.2z"/>
<path fill="#3d5671" d="M495.5 1224.1H507V1233.3H495.5zM381.4 1344.3H392.8V1353.6H381.4z"/>
<path fill="#3c668f" d="M598.3 1224.1H609.7V1233.3H598.3zM484.1 1279.6H495.5V1288.8H484.1z"/>
<path fill="#3676ad" d="M609.7 1233.3H621.1V1242.6H609.7zM427 1242.6H438.5V1251.8H427zM495.5 1288.8H507V1298.1H495.5zM278.6 1353.6H290V1362.8H278.6z"/>
<path fill="#88bbf2" d="M198.7 1242.6H210.1V1251.8H198.7zM290 1381.3H301.5V1390.6H290zM358.5 1418.3H370V1427.6H358.5zM678.2 1427.6H689.6V1436.8H678.2z"/>
<path fill="#3d5d7e" d="M609.7 1242.6H621.1V1251.8H609.7zM541.2 1270.3H552.6V1279.6H541.2z"/>
<path fill="#3a6a96" d="M427 1251.8H438.5V1261.1H427zM632.5 1251.8H643.9V1261.1H632.5zM484.1 1298.1H495.5V1307.3H484.1zM507 1325.8H518.4V1335.1H507zM507 1390.6H518.4V1399.8H507z"/>
<path fill="#3d5977" d="M507 1251.8H518.4V1261.1H507zM290 1261.1H301.5V1270.3H290zM484.1 1270.3H495.5V1279.6H484.1zM461.3 1344.3H472.7V1353.6H461.3zM381.4 1353.6H392.8V1362.8H381.4zM449.9 1353.6H461.3V1362.8H449.9z"/>
<path fill="#3d5e80" d="M529.8 1251.8H541.2V1261.1H529.8zM449.9 1261.1H461.3V1270.3H449.9zM643.9 1270.3H655.4V1279.6H643.9zM632.5 1279.6H643.9V1288.8H632.5zM404.2 1325.8H415.6V1335.1H404.2zM415.6 1381.3H427V1390.6H415.6zM552.6 1399.8H564V1409.1H552.6zM552.6 1409.1H564V1418.3H552.6z"/>
<path fill="#3578af" d="M507 1261.1H518.4V1270.3H507zM655.4 1288.8H666.8V1298.1H655.4z"/>
<path fill="#2c8ace" d="M529.8 1261.1H541.2V1270.3H529.8zM643.9 1279.6H655.4V1288.8H643.9zM461.3 1335.1H472.7V1344.3H461.3zM404.2 1362.8H415.6V1372.1H404.2zM621.1 1427.6H632.5V1436.8H621.1z"/>
<path fill="#3c6690" d="M518.4 1270.3H529.8V1279.6H518.4zM438.5 1353.6H449.9V1362.8H438.5zM472.7 1353.6H484.1V1362.8H472.7z"/>
<path fill="#3676ac" d="M701 1270.3H712.4V1279.6H701zM312.9 1409.1H324.3V1418.3H312.9z"/>
<path fill="#3d5773" d="M495.5 1279.6H507V1288.8H495.5zM484.1 1344.3H495.5V1353.6H484.1z"/>
<path fill="#3577ae" d="M621.1 1279.6H632.5V1288.8H621.1z"/>
<path fill="#3b6791" d="M484.1 1288.8H495.5V1298.1H484.1zM392.8 1344.3H404.2V1353.6H392.8z"/>
<path fill="#3d5c7d" d="M370 1362.8H381.4V1372.1H370zM541.2 1381.3H552.6V1390.6H541.2z"/>
<path fill="#3d5670" d="M507 1372.1H518.4V1381.3H507z"/>
<path fill="#3577ad" d="M529.8 1372.1H541.2V1381.3H529.8z"/>
<path fill="#3d5e7f" d="M472.7 1390.6H484.1V1399.8H472.7z"/>
<path fill="#3c6389" d="M609.7 1390.6H621.1V1399.8H609.7zM347.1 1409.1H358.5V1418.3H347.1z"/>
<path fill="#3d6186" d="M529.8 1409.1H541.2V1418.3H529.8zM484.1 1418.3H495.5V1427.6H484.1z"/>
<path fill="#89bbf2" d="M335.7 1418.3H347.1V1427.6H335.7z"/>
<path fill="#a3c5ef" d="M198.7 1446.1H210.1V1455.3H198.7z"/>
</g>
<g shape-rendering="crispEdges">
<path fill="#acc9ee" d="M1401.5 992.8H1412.9V1002.1H1401.5zM1458.5 992.8H1470V1002.1H1458.5zM1527 992.8H1538.5V1002.1H1527zM1161.7 1002.1H1173.1V1011.3H1161.7zM1424.3 1011.3H1435.7V1020.6H1424.3zM1458.5 1011.3H1470V1020.6H1458.5zM1515.6 1011.3H1527V1020.6H1515.6zM1207.4 1020.6H1218.8V1029.8H1207.4zM1447.1 1020.6H1458.5V1029.8H1447.1zM1093.2 1039.1H1104.7V1048.3H1093.2zM1310.1 1039.1H1321.6V1048.3H1310.1zM1390.1 1048.3H1401.5V1057.6H1390.1zM1447.1 1048.3H1458.5V1057.6H1447.1zM1241.6 1057.6H1253.1V1066.8H1241.6zM1401.5 1057.6H1412.9V1066.8H1401.5zM1515.6 1057.6H1527V1066.8H1515.6zM1161.7 1066.8H1184.6V1076.1H1161.7zM1253.1 1066.8H1264.5V1076.1H1253.1zM1412.9 1066.8H1424.3V1076.1H1412.9zM1321.6 1076.1H1333V1085.3H1321.6zM1492.8 1076.1H1504.2V1085.3H1492.8zM1527 1076.1H1538.5V1085.3H1527zM1241.6 1085.3H1253.1V1094.6H1241.6zM1275.9 1085.3H1298.7V1094.6H1275.9zM1378.6 1085.3H1390.1V1094.6H1378.6zM1458.5 1085.3H1470V1094.6H1458.5zM1104.7 1094.6H1116.1V1103.8H1104.7zM1138.9 1094.6H1150.3V1103.8H1138.9zM1298.7 1094.6H1321.6V1103.8H1298.7zM1390.1 1094.6H1401.5V1103.8H1390.1zM1447.1 1094.6H1458.5V1103.8H1447.1zM1470 1094.6H1492.8V1103.8H1470zM1070.4 1103.8H1081.8V1113.1H1070.4zM1196 1103.8H1207.4V1113.1H1196zM1230.2 1103.8H1241.6V1113.1H1230.2zM1412.9 1103.8H1424.3V1113.1H1412.9zM1435.7 1103.8H1470V1113.1H1435.7zM1241.6 1113.1H1253.1V1122.3H1241.6zM1264.5 1113.1H1275.9V1122.3H1264.5zM1321.6 1113.1H1344.4V1122.3H1321.6zM1367.2 1113.1H1401.5V1122.3H1367.2zM1424.3 1113.1H1435.7V1122.3H1424.3zM1492.8 1113.1H1504.2V1122.3H1492.8zM1184.6 1122.3H1196V1131.6H1184.6zM1241.6 1122.3H1253.1V1131.6H1241.6zM1321.6 1122.3H1344.4V1131.6H1321.6zM1367.2 1122.3H1401.5V1131.6H1367.2zM1435.7 1122.3H1447.1V1131.6H1435.7zM1470 1122.3H1481.4V1131.6H1470zM1116.1 1131.6H1127.5V1140.8H1116.1zM1138.9 1131.6H1150.3V1140.8H1138.9zM1218.8 1131.6H1241.6V1140.8H1218.8zM1355.8 1131.6H1367.2V1140.8H1355.8zM1424.3 1131.6H1447.1V1140.8H1424.3zM1458.5 1131.6H1470V1140.8H1458.5zM1515.6 1131.6H1527V1140.8H1515.6zM1173.1 1140.8H1184.6V1150.1H1173.1zM1241.6 1140.8H1253.1V1150.1H1241.6zM1264.5 1140.8H1287.3V1150.1H1264.5zM1310.1 1140.8H1333V1150.1H1310.1zM1344.4 1140.8H1378.6V1150.1H1344.4zM1390.1 1140.8H1401.5V1150.1H1390.1zM1412.9 1140.8H1424.3V1150.1H1412.9zM1447.1 1140.8H1470V1150.1H1447.1zM1070.4 1150.1H1093.2V1159.3H1070.4zM1116.1 1150.1H1127.5V1159.3H1116.1zM1196 1150.1H1218.8V1159.3H1196zM1241.6 1150.1H1275.9V1159.3H1241.6zM1287.3 1150.1H1298.7V1159.3H1287.3zM1333 1150.1H1344.4V1159.3H1333zM1367.2 1150.1H1378.6V1159.3H1367.2zM1390.1 1150.1H1447.1V1159.3H1390.1zM1470 1150.1H1481.4V1159.3H1470zM1515.6 1150.1H1527V1159.3H1515.6zM1081.8 1159.3H1093.2V1168.6H1081.8zM1104.7 1159.3H1127.5V1168.6H1104.7zM1150.3 1159.3H1173.1V1168.6H1150.3zM1196 1159.3H1207.4V1168.6H1196zM1241.6 1159.3H1264.5V1168.6H1241.6zM1321.6 1159.3H1333V1168.6H1321.6zM1344.4 1159.3H1412.9V1168.6H1344.4zM1447.1 1159.3H1458.5V1168.6H1447.1zM1127.5 1168.6H1138.9V1177.8H1127.5zM1230.2 1168.6H1253.1V1177.8H1230.2zM1275.9 1168.6H1287.3V1177.8H1275.9zM1298.7 1168.6H1333V1177.8H1298.7zM1355.8 1168.6H1367.2V1177.8H1355.8zM1378.6 1168.6H1401.5V1177.8H1378.6zM1424.3 1168.6H1481.4V1177.8H1424.3zM1504.2 1168.6H1515.6V1177.8H1504.2zM1013.3 1177.8H1024.7V1187.1H1013.3zM1127.5 1177.8H1150.3V1187.1H1127.5zM1173.1 1177.8H1184.6V1187.1H1173.1zM1207.4 1177.8H1230.2V1187.1H1207.4zM1241.6 1177.8H1253.1V1187.1H1241.6zM1298.7 1177.8H1310.1V1187.1H1298.7zM1321.6 1177.8H1367.2V1187.1H1321.6zM1390.1 1177.8H1401.5V1187.1H1390.1zM1435.7 1177.8H1447.1V1187.1H1435.7zM1470 1177.8H1481.4V1187.1H1470zM1504.2 1177.8H1527V1187.1H1504.2zM1059 1187.1H1070.4V1196.3H1059zM1104.7 1187.1H1116.1V1196.3H1104.7zM1138.9 1187.1H1150.3V1196.3H1138.9zM1161.7 1187.1H1173.1V1196.3H1161.7zM1184.6 1187.1H1207.4V1196.3H1184.6zM1218.8 1187.1H1230.2V1196.3H1218.8zM1241.6 1187.1H1253.1V1196.3H1241.6zM1264.5 1187.1H1275.9V1196.3H1264.5zM1298.7 1187.1H1310.1V1196.3H1298.7zM1321.6 1187.1H1333V1196.3H1321.6zM1378.6 1187.1H1401.5V1196.3H1378.6zM1412.9 1187.1H1424.3V1196.3H1412.9zM1447.1 1187.1H1481.4V1196.3H1447.1zM1024.7 1196.3H1036.2V1205.6H1024.7zM1047.6 1196.3H1059V1205.6H1047.6zM1116.1 1196.3H1138.9V1205.6H1116.1zM1150.3 1196.3H1161.7V1205.6H1150.3zM1184.6 1196.3H1196V1205.6H1184.6zM1241.6 1196.3H1253.1V1205.6H1241.6zM1287.3 1196.3H1321.6V1205.6H1287.3zM1333 1196.3H1355.8V1205.6H1333zM1367.2 1196.3H1378.6V1205.6H1367.2zM1390.1 1196.3H1412.9V1205.6H1390.1zM1435.7 1196.3H1458.5V1205.6H1435.7zM1013.3 1205.6H1024.7V1214.8H1013.3zM1081.8 1205.6H1104.7V1214.8H1081.8zM1116.1 1205.6H1150.3V1214.8H1116.1zM1161.7 1205.6H1184.6V1214.8H1161.7zM1196 1205.6H1275.9V1214.8H1196zM1287.3 1205.6H1298.7V1214.8H1287.3zM1321.6 1205.6H1344.4V1214.8H1321.6zM1355.8 1205.6H1412.9V1214.8H1355.8zM1435.7 1205.6H1447.1V1214.8H1435.7zM1470 1205.6H1481.4V1214.8H1470zM1013.3 1214.8H1036.2V1224.1H1013.3zM1081.8 1214.8H1093.2V1224.1H1081.8zM1173.1 1214.8H1230.2V1224.1H1173.1zM1253.1 1214.8H1264.5V1224.1H1253.1zM1298.7 1214.8H1321.6V1224.1H1298.7zM1333 1214.8H1344.4V1224.1H1333zM1355.8 1214.8H1401.5V1224.1H1355.8zM1412.9 1214.8H1424.3V1224.1H1412.9zM1435.7 1214.8H1447.1V1224.1H1435.7zM1458.5 1214.8H1481.4V1224.1H1458.5zM1504.2 1214.8H1515.6V1224.1H1504.2zM1013.3 1224.1H1024.7V1233.3H1013.3zM1081.8 1224.1H1104.7V1233.3H1081.8zM1116.1 1224.1H1138.9V1233.3H1116.1zM1161.7 1224.1H1207.4V1233.3H1161.7zM1218.8 1224.1H1275.9V1233.3H1218.8zM1287.3 1224.1H1298.7V1233.3H1287.3zM1310.1 1224.1H1355.8V1233.3H1310.1zM1367.2 1224.1H1401.5V1233.3H1367.2zM1424.3 1224.1H1447.1V1233.3H1424.3zM1492.8 1224.1H1504.2V1233.3H1492.8zM1047.6 1233.3H1059V1242.6H1047.6zM1093.2 1233.3H1116.1V1242.6H1093.2zM1127.5 1233.3H1138.9V1242.6H1127.5zM1150.3 1233.3H1207.4V1242.6H1150.3zM1218.8 1233.3H1230.2V1242.6H1218.8zM1241.6 1233.3H1321.6V1242.6H1241.6zM1367.2 1233.3H1378.6V1242.6H1367.2zM1390.1 1233.3H1435.7V1242.6H1390.1zM1470 1233.3H1481.4V1242.6H1470zM1504.2 1233.3H1515.6V1242.6H1504.2zM1001.9 1242.6H1013.3V1251.8H1001.9zM1047.6 1242.6H1104.7V1251.8H1047.6zM1116.1 1242.6H1127.5V1251.8H1116.1zM1150.3 1242.6H1173.1V1251.8H1150.3zM1184.6 1242.6H1196V1251.8H1184.6zM1207.4 1242.6H1287.3V1251.8H1207.4zM1298.7 1242.6H1333V1251.8H1298.7zM1355.8 1242.6H1378.6V1251.8H1355.8zM1401.5 1242.6H1412.9V1251.8H1401.5zM1435.7 1242.6H1447.1V1251.8H1435.7zM1470 1242.6H1481.4V1251.8H1470zM1492.8 1242.6H1504.2V1251.8H1492.8zM1515.6 1242.6H1527V1251.8H1515.6zM1013.3 1251.8H1059V1261.1H1013.3zM1070.4 1251.8H1081.8V1261.1H1070.4zM1093.2 1251.8H1127.5V1261.1H1093.2zM1138.9 1251.8H1218.8V1261.1H1138.9zM1230.2 1251.8H1367.2V1261.1H1230.2zM1378.6 1251.8H1424.3V1261.1H1378.6zM1470 1251.8H1481.4V1261.1H1470zM1001.9 1261.1H1013.3V1270.3H1001.9zM1024.7 1261.1H1036.2V1270.3H1024.7zM1047.6 1261.1H1104.7V1270.3H1047.6zM1116.1 1261.1H1230.2V1270.3H1116.1zM1253.1 1261.1H1333V1270.3H1253.1zM1344.4 1261.1H1401.5V1270.3H1344.4zM1412.9 1261.1H1458.5V1270.3H1412.9zM1470 1261.1H1481.4V1270.3H1470zM1024.7 1270.3H1036.2V1279.6H1024.7zM1047.6 1270.3H1093.2V1279.6H1047.6zM1104.7 1270.3H1127.5V1279.6H1104.7zM1150.3 1270.3H1184.6V1279.6H1150.3zM1196 1270.3H1310.1V1279.6H1196zM1321.6 1270.3H1333V1279.6H1321.6zM1344.4 1270.3H1401.5V1279.6H1344.4zM1424.3 1270.3H1435.7V1279.6H1424.3zM1481.4 1270.3H1492.8V1279.6H1481.4zM990.5 1279.6H1412.9V1288.8H990.5zM1435.7 1279.6H1447.1V1288.8H1435.7zM1001.9 1288.8H1024.7V1298.1H1001.9zM1036.2 1288.8H1378.6V1298.1H1036.2zM1390.1 1288.8H1401.5V1298.1H1390.1zM1412.9 1288.8H1424.3V1298.1H1412.9zM1435.7 1288.8H1470V1298.1H1435.7zM990.5 1298.1H1001.9V1307.3H990.5zM1013.3 1298.1H1321.6V1307.3H1013.3zM1333 1298.1H1378.6V1307.3H1333zM1390.1 1298.1H1424.3V1307.3H1390.1zM990.5 1307.3H1253.1V1316.6H990.5zM1264.5 1307.3H1287.3V1316.6H1264.5zM1298.7 1307.3H1321.6V1316.6H1298.7zM1333 1307.3H1412.9V1316.6H1333zM1447.1 1307.3H1458.5V1316.6H1447.1zM1470 1307.3H1481.4V1316.6H1470zM979.1 1316.6H990.5V1325.8H979.1zM1001.9 1316.6H1367.2V1325.8H1001.9zM1401.5 1316.6H1412.9V1325.8H1401.5zM990.5 1325.8H1321.6V1335.1H990.5zM1333 1325.8H1344.4V1335.1H1333zM1367.2 1325.8H1378.6V1335.1H1367.2zM1435.7 1325.8H1447.1V1335.1H1435.7zM990.5 1335.1H1355.8V1344.3H990.5zM1367.2 1335.1H1378.6V1344.3H1367.2zM1390.1 1335.1H1412.9V1344.3H1390.1zM1470 1335.1H1481.4V1344.3H1470zM979.1 1344.3H1275.9V1353.6H979.1zM1287.3 1344.3H1333V1353.6H1287.3zM1355.8 1344.3H1367.2V1353.6H1355.8zM1401.5 1344.3H1412.9V1353.6H1401.5zM967.7 1353.6H1218.8V1362.8H967.7zM1230.2 1353.6H1253.1V1362.8H1230.2zM1264.5 1353.6H1321.6V1362.8H1264.5zM1333 1353.6H1355.8V1362.8H1333zM1378.6 1353.6H1390.1V1362.8H1378.6zM1401.5 1353.6H1412.9V1362.8H1401.5zM1458.5 1353.6H1470V1362.8H1458.5zM979.1 1362.8H1264.5V1372.1H979.1zM1310.1 1362.8H1333V1372.1H1310.1zM1344.4 1362.8H1355.8V1372.1H1344.4zM979.1 1372.1H1196V1381.3H979.1zM1207.4 1372.1H1241.6V1381.3H1207.4zM1253.1 1372.1H1275.9V1381.3H1253.1zM1298.7 1372.1H1310.1V1381.3H1298.7zM1412.9 1372.1H1435.7V1381.3H1412.9zM967.7 1381.3H1264.5V1390.6H967.7zM1424.3 1381.3H1435.7V1390.6H1424.3zM967.7 1390.6H1184.6V1399.8H967.7zM1196 1390.6H1241.6V1399.8H1196zM1253.1 1390.6H1264.5V1399.8H1253.1zM967.7 1399.8H1184.6V1409.1H967.7zM1196 1399.8H1207.4V1409.1H1196zM1024.7 1409.1H1161.7V1418.3H1024.7zM1036.2 1418.3H1127.5V1427.6H1036.2zM1138.9 1418.3H1150.3V1427.6H1138.9zM1024.7 1427.6H1116.1V1436.8H1024.7zM1161.7 1427.6H1173.1V1436.8H1161.7zM1013.3 1436.8H1081.8V1446.1H1013.3z"/>
<path fill="#a7c7ef" d="M967.7 1409.1H979.1V1418.3H967.7zM1001.9 1446.1H1013.3V1455.3H1001.9z"/>
<path fill="#9fc3ef" d="M979.1 1409.1H990.5V1418.3H979.1zM1001.9 1409.1H1013.3V1418.3H1001.9z"/>
<path fill="#9dc2f0" d="M990.5 1409.1H1001.9V1418.3H990.5zM1013.3 1427.6H1024.7V1436.8H1013.3z"/>
<path fill="#a2c4ef" d="M1013.3 1409.1H1024.7V1418.3H1013.3zM967.7 1418.3H979.1V1427.6H967.7zM1001.9 1436.8H1013.3V1446.1H1001.9zM990.5 1446.1H1001.9V1455.3H990.5z"/>
<path fill="#8abbf2" d="M979.1 1418.3H1001.9V1427.6H979.1z"/>
<path fill="#90bef1" d="M1001.9 1418.3H1013.3V1427.6H1001.9zM967.7 1427.6H979.1V1436.8H967.7z"/>
<path fill="#99c1f0" d="M1013.3 1418.3H1024.7V1427.6H1013.3z"/>
<path fill="#a4c5ef" d="M1024.7 1418.3H1036.2V1427.6H1024.7z"/>
<path fill="#2fa0f0" d="M979.1 1427.6H990.5V1436.8H979.1z"/>
<path fill="#32a4f4" d="M990.5 1427.6H1001.9V1436.8H990.5z"/>
<path fill="#8ebdf1" d="M1001.9 1427.6H1013.3V1436.8H1001.9z"/>
<path fill="#2b9ae7" d="M967.7 1436.8H979.1V1446.1H967.7z"/>
<path fill="#2a90d8" d="M979.1 1436.8H990.5V1446.1H979.1z"/>
<path fill="#84b9f2" d="M990.5 1436.8H1001.9V1446.1H990.5z"/>
<path fill="#3d546e" d="M967.7 1446.1H979.1V1455.3H967.7z"/>
<path fill="#69b1f5" d="M979.1 1446.1H990.5V1455.3H979.1z"/>
</g>
<g fill="none">
<rect x="1216.1" y="166.0" width="73.2" height="242.6" stroke="#f4772a" stroke-opacity="0.62" stroke-width="0.85"/>
<rect x="1157.7" y="227.3" width="190.0" height="120.0" stroke="#f4772a" stroke-opacity="0.62" stroke-width="0.85"/>
<rect x="1190.5" y="223.2" width="124.4" height="128.2" stroke="#f4772a" stroke-opacity="0.65" stroke-width="0.85"/>
<rect x="1194.7" y="238.3" width="116.0" height="98.0" stroke="#f4772a" stroke-opacity="0.65" stroke-width="0.85"/>
<rect x="1203.9" y="248.6" width="97.6" height="77.4" stroke="#f4772a" stroke-opacity="0.6" stroke-width="0.85"/>
<rect x="1208.3" y="235.3" width="88.8" height="104.0" stroke="#f4772a" stroke-opacity="0.55" stroke-width="1.02"/>
<rect x="1209.3" y="236.1" width="86.8" height="102.4" stroke="#f4772a" stroke-opacity="0.45" stroke-width="1.02"/>
<rect x="1210.3" y="236.9" width="84.8" height="100.8" stroke="#f4772a" stroke-opacity="0.4" stroke-width="0.85"/>
<rect x="1211.4" y="225.1" width="82.6" height="124.4" stroke="#f4772a" stroke-opacity="0.5" stroke-width="1.02"/>
<rect x="1212.2" y="225.8" width="81.0" height="123.0" stroke="#f4772a" stroke-opacity="0.4" stroke-width="0.85"/>
<rect x="1217.4" y="242.7" width="70.6" height="89.2" stroke="#2c99a8" stroke-opacity="0.55" stroke-width="1.02"/>
<rect x="1216.8" y="242.1" width="71.8" height="90.4" stroke="#1a9334" stroke-opacity="0.3" stroke-width="0.85"/>
<rect x="1220.5" y="235.6" width="64.4" height="103.4" stroke="#f4772a" stroke-opacity="0.5" stroke-width="0.85"/>
<rect x="1223.5" y="240.6" width="58.4" height="93.4" stroke="#f4772a" stroke-opacity="0.5" stroke-width="0.85"/>
<rect x="1224.7" y="257.3" width="56.0" height="60.0" stroke="#f4772a" stroke-opacity="0.4" stroke-width="0.85"/>
<rect x="1236.4" y="245.0" width="32.6" height="84.6" stroke="#f4772a" stroke-opacity="0.45" stroke-width="0.85"/>
<rect x="1240.4" y="230.3" width="24.6" height="114.0" stroke="#b0608a" stroke-opacity="0.55" stroke-width="0.85"/>
<rect x="1213.9" y="251.9" width="77.6" height="70.8" stroke="#f4772a" stroke-opacity="0.4" stroke-width="1.02"/>
<rect x="1214.7" y="252.7" width="76.0" height="69.2" stroke="#f4772a" stroke-opacity="0.4" stroke-width="1.02"/>
<rect x="1215.5" y="253.5" width="74.4" height="67.6" stroke="#f4772a" stroke-opacity="0.4" stroke-width="1.02"/>
<rect x="1216.3" y="254.3" width="72.8" height="66.0" stroke="#f4772a" stroke-opacity="0.4" stroke-width="1.02"/>
<rect x="1217.1" y="255.1" width="71.2" height="64.4" stroke="#f4772a" stroke-opacity="0.35" stroke-width="1.02"/>
<rect x="1212.4" y="263.2" width="80.6" height="48.2" stroke="#e8640f" stroke-opacity="0.75" stroke-width="1.1"/>
<rect x="1213.4" y="263.9" width="78.6" height="46.8" stroke="#f4772a" stroke-opacity="0.5" stroke-width="1.02"/>
<rect x="1215.7" y="263.6" width="74.0" height="47.4" stroke="#e8640f" stroke-opacity="0.6" stroke-width="1.02"/>
<rect x="1219.9" y="254.5" width="65.6" height="65.6" stroke="#f4772a" stroke-opacity="0.55" stroke-width="1.1"/>
<rect x="1220.9" y="255.5" width="63.6" height="63.6" stroke="#f4772a" stroke-opacity="0.4" stroke-width="0.85"/>
<rect x="1245.5" y="256.2" width="14.4" height="62.2" stroke="#e06a20" stroke-opacity="0.6" stroke-width="0.85"/>
<rect x="1239.1" y="271.1" width="27.2" height="32.4" stroke="#a85a2a" stroke-opacity="0.7" stroke-width="0.94"/>
<rect x="1241.1" y="277.3" width="23.2" height="20.0" stroke="#c0503a" stroke-opacity="0.6" stroke-width="0.85"/>
<rect x="1227.1" y="263.0" width="51.2" height="48.6" stroke="#f4772a" stroke-opacity="0.4" stroke-width="0.85"/>
<rect x="1228.9" y="261.8" width="47.6" height="51.0" stroke="#f4772a" stroke-opacity="0.4" stroke-width="0.85"/>
<rect x="1231.3" y="253.9" width="42.8" height="66.8" stroke="#f4772a" stroke-opacity="0.45" stroke-width="0.85"/>
<rect x="1231.3" y="264.3" width="42.8" height="46.0" stroke="#f4772a" stroke-opacity="0.4" stroke-width="0.85"/>
<rect x="1234.1" y="262.5" width="37.2" height="49.6" stroke="#f4772a" stroke-opacity="0.4" stroke-width="0.85"/>
<rect x="1236.2" y="264.7" width="33.0" height="45.2" stroke="#f4772a" stroke-opacity="0.4" stroke-width="0.85"/>
<rect x="1243.5" y="259.3" width="18.4" height="56.0" stroke="#f4772a" stroke-opacity="0.4" stroke-width="0.85"/>
<rect x="1222.2" y="267.3" width="61.0" height="40.0" stroke="#f4772a" stroke-opacity="0.3" stroke-width="0.85"/>
<rect x="1232.9" y="268.3" width="39.6" height="38.0" stroke="#f4772a" stroke-opacity="0.3" stroke-width="0.85"/>
</g>
<rect x="1241.2" y="274.3" width="23.0" height="26.0" fill="#ff3838" fill-opacity=".25"/>
<rect x="1242.7" y="275.8" width="20.0" height="23.0" fill="#ff3838" fill-opacity=".3"/>
<ellipse cx="1253.0" cy="287.6" rx="8.8" ry="10.4" fill="#ff3838"/>
</svg></body></html>
